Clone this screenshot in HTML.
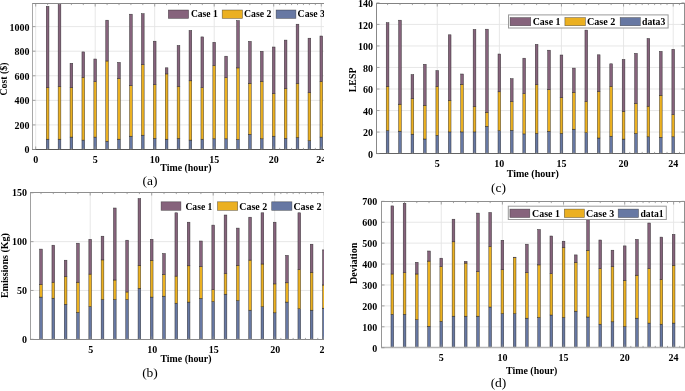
<!DOCTYPE html>
<html><head><meta charset="utf-8"><title>Figure</title>
<style>
html,body{margin:0;padding:0;background:#fff;}
body{width:685px;height:391px;overflow:hidden;}
svg{display:block;filter:blur(0.3px);}
text{font-family:"Liberation Serif",serif;fill:#000000;}
.b{font-weight:bold;font-size:10.0px;}
.l{font-weight:bold;font-size:9.8px;}
.c{font-size:13.5px;}
</style></head>
<body>
<svg width="685" height="391" viewBox="0 0 685 391">
<defs><clipPath id="clipa"><rect x="0" y="0" width="324" height="391"/></clipPath><clipPath id="clipb"><rect x="0" y="0" width="324" height="391"/></clipPath></defs>
<rect x="0" y="0" width="685" height="391" fill="#fff"/>
<g clip-path="url(#clipa)">
<line x1="32.5" y1="124.92" x2="340" y2="124.92" stroke="#e4e4e4" stroke-width="0.9"/>
<line x1="32.5" y1="100.35" x2="340" y2="100.35" stroke="#e4e4e4" stroke-width="0.9"/>
<line x1="32.5" y1="75.77" x2="340" y2="75.77" stroke="#e4e4e4" stroke-width="0.9"/>
<line x1="32.5" y1="51.2" x2="340" y2="51.2" stroke="#e4e4e4" stroke-width="0.9"/>
<line x1="32.5" y1="26.62" x2="340" y2="26.62" stroke="#e4e4e4" stroke-width="0.9"/>
<line x1="35.7" y1="3.5" x2="35.7" y2="149.5" stroke="#e4e4e4" stroke-width="0.9"/>
<line x1="95.2" y1="3.5" x2="95.2" y2="149.5" stroke="#e4e4e4" stroke-width="0.9"/>
<line x1="154.7" y1="3.5" x2="154.7" y2="149.5" stroke="#e4e4e4" stroke-width="0.9"/>
<line x1="214.2" y1="3.5" x2="214.2" y2="149.5" stroke="#e4e4e4" stroke-width="0.9"/>
<line x1="273.7" y1="3.5" x2="273.7" y2="149.5" stroke="#e4e4e4" stroke-width="0.9"/>
<line x1="321.3" y1="3.5" x2="321.3" y2="149.5" stroke="#e4e4e4" stroke-width="0.9"/>
<rect x="46.25" y="139.2" width="2.7" height="10.3" fill="#6778a3" stroke="#1e1e1e" stroke-width="0.5" stroke-opacity="0.85"/>
<rect x="46.25" y="87.6" width="2.7" height="51.6" fill="#ebb021" stroke="#1e1e1e" stroke-width="0.5" stroke-opacity="0.85"/>
<rect x="46.25" y="6.4" width="2.7" height="81.2" fill="#86637c" stroke="#1e1e1e" stroke-width="0.5" stroke-opacity="0.85"/>
<rect x="58.15" y="139.2" width="2.7" height="10.3" fill="#6778a3" stroke="#1e1e1e" stroke-width="0.5" stroke-opacity="0.85"/>
<rect x="58.15" y="86.5" width="2.7" height="52.7" fill="#ebb021" stroke="#1e1e1e" stroke-width="0.5" stroke-opacity="0.85"/>
<rect x="58.15" y="3.6" width="2.7" height="82.9" fill="#86637c" stroke="#1e1e1e" stroke-width="0.5" stroke-opacity="0.85"/>
<rect x="70.05" y="137.1" width="2.7" height="12.4" fill="#6778a3" stroke="#1e1e1e" stroke-width="0.5" stroke-opacity="0.85"/>
<rect x="70.05" y="87.6" width="2.7" height="49.5" fill="#ebb021" stroke="#1e1e1e" stroke-width="0.5" stroke-opacity="0.85"/>
<rect x="70.05" y="63.3" width="2.7" height="24.3" fill="#86637c" stroke="#1e1e1e" stroke-width="0.5" stroke-opacity="0.85"/>
<rect x="81.95" y="140.1" width="2.7" height="9.4" fill="#6778a3" stroke="#1e1e1e" stroke-width="0.5" stroke-opacity="0.85"/>
<rect x="81.95" y="77.3" width="2.7" height="62.8" fill="#ebb021" stroke="#1e1e1e" stroke-width="0.5" stroke-opacity="0.85"/>
<rect x="81.95" y="51.9" width="2.7" height="25.4" fill="#86637c" stroke="#1e1e1e" stroke-width="0.5" stroke-opacity="0.85"/>
<rect x="93.85" y="137.1" width="2.7" height="12.4" fill="#6778a3" stroke="#1e1e1e" stroke-width="0.5" stroke-opacity="0.85"/>
<rect x="93.85" y="81.6" width="2.7" height="55.5" fill="#ebb021" stroke="#1e1e1e" stroke-width="0.5" stroke-opacity="0.85"/>
<rect x="93.85" y="59" width="2.7" height="22.6" fill="#86637c" stroke="#1e1e1e" stroke-width="0.5" stroke-opacity="0.85"/>
<rect x="105.75" y="141.2" width="2.7" height="8.3" fill="#6778a3" stroke="#1e1e1e" stroke-width="0.5" stroke-opacity="0.85"/>
<rect x="105.75" y="61" width="2.7" height="80.2" fill="#ebb021" stroke="#1e1e1e" stroke-width="0.5" stroke-opacity="0.85"/>
<rect x="105.75" y="20.2" width="2.7" height="40.8" fill="#86637c" stroke="#1e1e1e" stroke-width="0.5" stroke-opacity="0.85"/>
<rect x="117.65" y="139.2" width="2.7" height="10.3" fill="#6778a3" stroke="#1e1e1e" stroke-width="0.5" stroke-opacity="0.85"/>
<rect x="117.65" y="78.6" width="2.7" height="60.6" fill="#ebb021" stroke="#1e1e1e" stroke-width="0.5" stroke-opacity="0.85"/>
<rect x="117.65" y="62.4" width="2.7" height="16.2" fill="#86637c" stroke="#1e1e1e" stroke-width="0.5" stroke-opacity="0.85"/>
<rect x="129.55" y="136.2" width="2.7" height="13.3" fill="#6778a3" stroke="#1e1e1e" stroke-width="0.5" stroke-opacity="0.85"/>
<rect x="129.55" y="85.7" width="2.7" height="50.5" fill="#ebb021" stroke="#1e1e1e" stroke-width="0.5" stroke-opacity="0.85"/>
<rect x="129.55" y="14.2" width="2.7" height="71.5" fill="#86637c" stroke="#1e1e1e" stroke-width="0.5" stroke-opacity="0.85"/>
<rect x="141.45" y="135.2" width="2.7" height="14.3" fill="#6778a3" stroke="#1e1e1e" stroke-width="0.5" stroke-opacity="0.85"/>
<rect x="141.45" y="64.7" width="2.7" height="70.5" fill="#ebb021" stroke="#1e1e1e" stroke-width="0.5" stroke-opacity="0.85"/>
<rect x="141.45" y="13.7" width="2.7" height="51" fill="#86637c" stroke="#1e1e1e" stroke-width="0.5" stroke-opacity="0.85"/>
<rect x="153.35" y="138.4" width="2.7" height="11.1" fill="#6778a3" stroke="#1e1e1e" stroke-width="0.5" stroke-opacity="0.85"/>
<rect x="153.35" y="84.6" width="2.7" height="53.8" fill="#ebb021" stroke="#1e1e1e" stroke-width="0.5" stroke-opacity="0.85"/>
<rect x="153.35" y="41.2" width="2.7" height="43.4" fill="#86637c" stroke="#1e1e1e" stroke-width="0.5" stroke-opacity="0.85"/>
<rect x="165.25" y="139.2" width="2.7" height="10.3" fill="#6778a3" stroke="#1e1e1e" stroke-width="0.5" stroke-opacity="0.85"/>
<rect x="165.25" y="73.9" width="2.7" height="65.3" fill="#ebb021" stroke="#1e1e1e" stroke-width="0.5" stroke-opacity="0.85"/>
<rect x="165.25" y="67.8" width="2.7" height="6.1" fill="#86637c" stroke="#1e1e1e" stroke-width="0.5" stroke-opacity="0.85"/>
<rect x="177.15" y="138.4" width="2.7" height="11.1" fill="#6778a3" stroke="#1e1e1e" stroke-width="0.5" stroke-opacity="0.85"/>
<rect x="177.15" y="86.5" width="2.7" height="51.9" fill="#ebb021" stroke="#1e1e1e" stroke-width="0.5" stroke-opacity="0.85"/>
<rect x="177.15" y="45.5" width="2.7" height="41" fill="#86637c" stroke="#1e1e1e" stroke-width="0.5" stroke-opacity="0.85"/>
<rect x="189.05" y="140.1" width="2.7" height="9.4" fill="#6778a3" stroke="#1e1e1e" stroke-width="0.5" stroke-opacity="0.85"/>
<rect x="189.05" y="80.8" width="2.7" height="59.3" fill="#ebb021" stroke="#1e1e1e" stroke-width="0.5" stroke-opacity="0.85"/>
<rect x="189.05" y="30.5" width="2.7" height="50.3" fill="#86637c" stroke="#1e1e1e" stroke-width="0.5" stroke-opacity="0.85"/>
<rect x="200.95" y="139.2" width="2.7" height="10.3" fill="#6778a3" stroke="#1e1e1e" stroke-width="0.5" stroke-opacity="0.85"/>
<rect x="200.95" y="87.6" width="2.7" height="51.6" fill="#ebb021" stroke="#1e1e1e" stroke-width="0.5" stroke-opacity="0.85"/>
<rect x="200.95" y="36.9" width="2.7" height="50.7" fill="#86637c" stroke="#1e1e1e" stroke-width="0.5" stroke-opacity="0.85"/>
<rect x="212.85" y="138.8" width="2.7" height="10.7" fill="#6778a3" stroke="#1e1e1e" stroke-width="0.5" stroke-opacity="0.85"/>
<rect x="212.85" y="65.5" width="2.7" height="73.3" fill="#ebb021" stroke="#1e1e1e" stroke-width="0.5" stroke-opacity="0.85"/>
<rect x="212.85" y="42.3" width="2.7" height="23.2" fill="#86637c" stroke="#1e1e1e" stroke-width="0.5" stroke-opacity="0.85"/>
<rect x="224.75" y="138.8" width="2.7" height="10.7" fill="#6778a3" stroke="#1e1e1e" stroke-width="0.5" stroke-opacity="0.85"/>
<rect x="224.75" y="77.7" width="2.7" height="61.1" fill="#ebb021" stroke="#1e1e1e" stroke-width="0.5" stroke-opacity="0.85"/>
<rect x="224.75" y="56.2" width="2.7" height="21.5" fill="#86637c" stroke="#1e1e1e" stroke-width="0.5" stroke-opacity="0.85"/>
<rect x="236.65" y="139.5" width="2.7" height="10" fill="#6778a3" stroke="#1e1e1e" stroke-width="0.5" stroke-opacity="0.85"/>
<rect x="236.65" y="67.9" width="2.7" height="71.6" fill="#ebb021" stroke="#1e1e1e" stroke-width="0.5" stroke-opacity="0.85"/>
<rect x="236.65" y="20.6" width="2.7" height="47.3" fill="#86637c" stroke="#1e1e1e" stroke-width="0.5" stroke-opacity="0.85"/>
<rect x="248.55" y="134.3" width="2.7" height="15.2" fill="#6778a3" stroke="#1e1e1e" stroke-width="0.5" stroke-opacity="0.85"/>
<rect x="248.55" y="83.3" width="2.7" height="51" fill="#ebb021" stroke="#1e1e1e" stroke-width="0.5" stroke-opacity="0.85"/>
<rect x="248.55" y="41.4" width="2.7" height="41.9" fill="#86637c" stroke="#1e1e1e" stroke-width="0.5" stroke-opacity="0.85"/>
<rect x="260.45" y="138.8" width="2.7" height="10.7" fill="#6778a3" stroke="#1e1e1e" stroke-width="0.5" stroke-opacity="0.85"/>
<rect x="260.45" y="81.4" width="2.7" height="57.4" fill="#ebb021" stroke="#1e1e1e" stroke-width="0.5" stroke-opacity="0.85"/>
<rect x="260.45" y="51.3" width="2.7" height="30.1" fill="#86637c" stroke="#1e1e1e" stroke-width="0.5" stroke-opacity="0.85"/>
<rect x="272.35" y="136.2" width="2.7" height="13.3" fill="#6778a3" stroke="#1e1e1e" stroke-width="0.5" stroke-opacity="0.85"/>
<rect x="272.35" y="93.6" width="2.7" height="42.6" fill="#ebb021" stroke="#1e1e1e" stroke-width="0.5" stroke-opacity="0.85"/>
<rect x="272.35" y="47" width="2.7" height="46.6" fill="#86637c" stroke="#1e1e1e" stroke-width="0.5" stroke-opacity="0.85"/>
<rect x="284.25" y="138.4" width="2.7" height="11.1" fill="#6778a3" stroke="#1e1e1e" stroke-width="0.5" stroke-opacity="0.85"/>
<rect x="284.25" y="88.5" width="2.7" height="49.9" fill="#ebb021" stroke="#1e1e1e" stroke-width="0.5" stroke-opacity="0.85"/>
<rect x="284.25" y="40.1" width="2.7" height="48.4" fill="#86637c" stroke="#1e1e1e" stroke-width="0.5" stroke-opacity="0.85"/>
<rect x="296.15" y="137.5" width="2.7" height="12" fill="#6778a3" stroke="#1e1e1e" stroke-width="0.5" stroke-opacity="0.85"/>
<rect x="296.15" y="83.5" width="2.7" height="54" fill="#ebb021" stroke="#1e1e1e" stroke-width="0.5" stroke-opacity="0.85"/>
<rect x="296.15" y="24.2" width="2.7" height="59.3" fill="#86637c" stroke="#1e1e1e" stroke-width="0.5" stroke-opacity="0.85"/>
<rect x="308.05" y="140.7" width="2.7" height="8.8" fill="#6778a3" stroke="#1e1e1e" stroke-width="0.5" stroke-opacity="0.85"/>
<rect x="308.05" y="92.6" width="2.7" height="48.1" fill="#ebb021" stroke="#1e1e1e" stroke-width="0.5" stroke-opacity="0.85"/>
<rect x="308.05" y="38.2" width="2.7" height="54.4" fill="#86637c" stroke="#1e1e1e" stroke-width="0.5" stroke-opacity="0.85"/>
<rect x="319.95" y="137.1" width="2.7" height="12.4" fill="#6778a3" stroke="#1e1e1e" stroke-width="0.5" stroke-opacity="0.85"/>
<rect x="319.95" y="81.4" width="2.7" height="55.7" fill="#ebb021" stroke="#1e1e1e" stroke-width="0.5" stroke-opacity="0.85"/>
<rect x="319.95" y="36" width="2.7" height="45.4" fill="#86637c" stroke="#1e1e1e" stroke-width="0.5" stroke-opacity="0.85"/>
<line x1="32" y1="3.5" x2="340.5" y2="3.5" stroke="#8a8a8a" stroke-width="1"/>
<line x1="32" y1="149.5" x2="340.5" y2="149.5" stroke="#565656" stroke-width="1"/>
<line x1="32.5" y1="3.5" x2="32.5" y2="149.5" stroke="#a8a8a8" stroke-width="1"/>
<line x1="340" y1="3.5" x2="340" y2="149.5" stroke="#8f8f8f" stroke-width="1"/>
<line x1="35.7" y1="149.5" x2="35.7" y2="146.5" stroke="#8f8f8f" stroke-width="0.8"/>
<line x1="35.7" y1="3.5" x2="35.7" y2="6.5" stroke="#8f8f8f" stroke-width="0.8"/>
<line x1="47.6" y1="149.5" x2="47.6" y2="147.9" stroke="#8f8f8f" stroke-width="0.8"/>
<line x1="47.6" y1="3.5" x2="47.6" y2="5.1" stroke="#8f8f8f" stroke-width="0.8"/>
<line x1="59.5" y1="149.5" x2="59.5" y2="147.9" stroke="#8f8f8f" stroke-width="0.8"/>
<line x1="59.5" y1="3.5" x2="59.5" y2="5.1" stroke="#8f8f8f" stroke-width="0.8"/>
<line x1="71.4" y1="149.5" x2="71.4" y2="147.9" stroke="#8f8f8f" stroke-width="0.8"/>
<line x1="71.4" y1="3.5" x2="71.4" y2="5.1" stroke="#8f8f8f" stroke-width="0.8"/>
<line x1="83.3" y1="149.5" x2="83.3" y2="147.9" stroke="#8f8f8f" stroke-width="0.8"/>
<line x1="83.3" y1="3.5" x2="83.3" y2="5.1" stroke="#8f8f8f" stroke-width="0.8"/>
<line x1="95.2" y1="149.5" x2="95.2" y2="146.5" stroke="#8f8f8f" stroke-width="0.8"/>
<line x1="95.2" y1="3.5" x2="95.2" y2="6.5" stroke="#8f8f8f" stroke-width="0.8"/>
<line x1="107.1" y1="149.5" x2="107.1" y2="147.9" stroke="#8f8f8f" stroke-width="0.8"/>
<line x1="107.1" y1="3.5" x2="107.1" y2="5.1" stroke="#8f8f8f" stroke-width="0.8"/>
<line x1="119" y1="149.5" x2="119" y2="147.9" stroke="#8f8f8f" stroke-width="0.8"/>
<line x1="119" y1="3.5" x2="119" y2="5.1" stroke="#8f8f8f" stroke-width="0.8"/>
<line x1="130.9" y1="149.5" x2="130.9" y2="147.9" stroke="#8f8f8f" stroke-width="0.8"/>
<line x1="130.9" y1="3.5" x2="130.9" y2="5.1" stroke="#8f8f8f" stroke-width="0.8"/>
<line x1="142.8" y1="149.5" x2="142.8" y2="147.9" stroke="#8f8f8f" stroke-width="0.8"/>
<line x1="142.8" y1="3.5" x2="142.8" y2="5.1" stroke="#8f8f8f" stroke-width="0.8"/>
<line x1="154.7" y1="149.5" x2="154.7" y2="146.5" stroke="#8f8f8f" stroke-width="0.8"/>
<line x1="154.7" y1="3.5" x2="154.7" y2="6.5" stroke="#8f8f8f" stroke-width="0.8"/>
<line x1="166.6" y1="149.5" x2="166.6" y2="147.9" stroke="#8f8f8f" stroke-width="0.8"/>
<line x1="166.6" y1="3.5" x2="166.6" y2="5.1" stroke="#8f8f8f" stroke-width="0.8"/>
<line x1="178.5" y1="149.5" x2="178.5" y2="147.9" stroke="#8f8f8f" stroke-width="0.8"/>
<line x1="178.5" y1="3.5" x2="178.5" y2="5.1" stroke="#8f8f8f" stroke-width="0.8"/>
<line x1="190.4" y1="149.5" x2="190.4" y2="147.9" stroke="#8f8f8f" stroke-width="0.8"/>
<line x1="190.4" y1="3.5" x2="190.4" y2="5.1" stroke="#8f8f8f" stroke-width="0.8"/>
<line x1="202.3" y1="149.5" x2="202.3" y2="147.9" stroke="#8f8f8f" stroke-width="0.8"/>
<line x1="202.3" y1="3.5" x2="202.3" y2="5.1" stroke="#8f8f8f" stroke-width="0.8"/>
<line x1="214.2" y1="149.5" x2="214.2" y2="146.5" stroke="#8f8f8f" stroke-width="0.8"/>
<line x1="214.2" y1="3.5" x2="214.2" y2="6.5" stroke="#8f8f8f" stroke-width="0.8"/>
<line x1="226.1" y1="149.5" x2="226.1" y2="147.9" stroke="#8f8f8f" stroke-width="0.8"/>
<line x1="226.1" y1="3.5" x2="226.1" y2="5.1" stroke="#8f8f8f" stroke-width="0.8"/>
<line x1="238" y1="149.5" x2="238" y2="147.9" stroke="#8f8f8f" stroke-width="0.8"/>
<line x1="238" y1="3.5" x2="238" y2="5.1" stroke="#8f8f8f" stroke-width="0.8"/>
<line x1="249.9" y1="149.5" x2="249.9" y2="147.9" stroke="#8f8f8f" stroke-width="0.8"/>
<line x1="249.9" y1="3.5" x2="249.9" y2="5.1" stroke="#8f8f8f" stroke-width="0.8"/>
<line x1="261.8" y1="149.5" x2="261.8" y2="147.9" stroke="#8f8f8f" stroke-width="0.8"/>
<line x1="261.8" y1="3.5" x2="261.8" y2="5.1" stroke="#8f8f8f" stroke-width="0.8"/>
<line x1="273.7" y1="149.5" x2="273.7" y2="146.5" stroke="#8f8f8f" stroke-width="0.8"/>
<line x1="273.7" y1="3.5" x2="273.7" y2="6.5" stroke="#8f8f8f" stroke-width="0.8"/>
<line x1="279.65" y1="149.5" x2="279.65" y2="147.9" stroke="#8f8f8f" stroke-width="0.8"/>
<line x1="279.65" y1="3.5" x2="279.65" y2="5.1" stroke="#8f8f8f" stroke-width="0.8"/>
<line x1="285.6" y1="149.5" x2="285.6" y2="147.9" stroke="#8f8f8f" stroke-width="0.8"/>
<line x1="285.6" y1="3.5" x2="285.6" y2="5.1" stroke="#8f8f8f" stroke-width="0.8"/>
<line x1="291.55" y1="149.5" x2="291.55" y2="147.9" stroke="#8f8f8f" stroke-width="0.8"/>
<line x1="291.55" y1="3.5" x2="291.55" y2="5.1" stroke="#8f8f8f" stroke-width="0.8"/>
<line x1="297.5" y1="149.5" x2="297.5" y2="147.9" stroke="#8f8f8f" stroke-width="0.8"/>
<line x1="297.5" y1="3.5" x2="297.5" y2="5.1" stroke="#8f8f8f" stroke-width="0.8"/>
<line x1="303.45" y1="149.5" x2="303.45" y2="147.9" stroke="#8f8f8f" stroke-width="0.8"/>
<line x1="303.45" y1="3.5" x2="303.45" y2="5.1" stroke="#8f8f8f" stroke-width="0.8"/>
<line x1="309.4" y1="149.5" x2="309.4" y2="147.9" stroke="#8f8f8f" stroke-width="0.8"/>
<line x1="309.4" y1="3.5" x2="309.4" y2="5.1" stroke="#8f8f8f" stroke-width="0.8"/>
<line x1="315.35" y1="149.5" x2="315.35" y2="147.9" stroke="#8f8f8f" stroke-width="0.8"/>
<line x1="315.35" y1="3.5" x2="315.35" y2="5.1" stroke="#8f8f8f" stroke-width="0.8"/>
<line x1="321.3" y1="149.5" x2="321.3" y2="146.5" stroke="#8f8f8f" stroke-width="0.8"/>
<line x1="321.3" y1="3.5" x2="321.3" y2="6.5" stroke="#8f8f8f" stroke-width="0.8"/>
<line x1="327.25" y1="149.5" x2="327.25" y2="147.9" stroke="#8f8f8f" stroke-width="0.8"/>
<line x1="327.25" y1="3.5" x2="327.25" y2="5.1" stroke="#8f8f8f" stroke-width="0.8"/>
<line x1="333.2" y1="149.5" x2="333.2" y2="147.9" stroke="#8f8f8f" stroke-width="0.8"/>
<line x1="333.2" y1="3.5" x2="333.2" y2="5.1" stroke="#8f8f8f" stroke-width="0.8"/>
<line x1="339.15" y1="149.5" x2="339.15" y2="147.9" stroke="#8f8f8f" stroke-width="0.8"/>
<line x1="339.15" y1="3.5" x2="339.15" y2="5.1" stroke="#8f8f8f" stroke-width="0.8"/>
<line x1="32.5" y1="149.5" x2="35.5" y2="149.5" stroke="#8f8f8f" stroke-width="0.8"/>
<line x1="340" y1="149.5" x2="337" y2="149.5" stroke="#8f8f8f" stroke-width="0.8"/>
<line x1="32.5" y1="124.92" x2="35.5" y2="124.92" stroke="#8f8f8f" stroke-width="0.8"/>
<line x1="340" y1="124.92" x2="337" y2="124.92" stroke="#8f8f8f" stroke-width="0.8"/>
<line x1="32.5" y1="100.35" x2="35.5" y2="100.35" stroke="#8f8f8f" stroke-width="0.8"/>
<line x1="340" y1="100.35" x2="337" y2="100.35" stroke="#8f8f8f" stroke-width="0.8"/>
<line x1="32.5" y1="75.77" x2="35.5" y2="75.77" stroke="#8f8f8f" stroke-width="0.8"/>
<line x1="340" y1="75.77" x2="337" y2="75.77" stroke="#8f8f8f" stroke-width="0.8"/>
<line x1="32.5" y1="51.2" x2="35.5" y2="51.2" stroke="#8f8f8f" stroke-width="0.8"/>
<line x1="340" y1="51.2" x2="337" y2="51.2" stroke="#8f8f8f" stroke-width="0.8"/>
<line x1="32.5" y1="26.62" x2="35.5" y2="26.62" stroke="#8f8f8f" stroke-width="0.8"/>
<line x1="340" y1="26.62" x2="337" y2="26.62" stroke="#8f8f8f" stroke-width="0.8"/>
<rect x="168.3" y="10" width="20.3" height="8.4" fill="#86637c" stroke="#1e1e1e" stroke-width="0.6" stroke-opacity="0.6"/>
<text x="190.9" y="17.3" class="b" textLength="26.9" lengthAdjust="spacingAndGlyphs">Case 1</text>
<rect x="222.2" y="10" width="20.3" height="8.4" fill="#ebb021" stroke="#1e1e1e" stroke-width="0.6" stroke-opacity="0.6"/>
<text x="244" y="17.3" class="b" textLength="27.4" lengthAdjust="spacingAndGlyphs">Case 2</text>
<rect x="276.1" y="10" width="19.8" height="8.4" fill="#6778a3" stroke="#1e1e1e" stroke-width="0.6" stroke-opacity="0.6"/>
<text x="297.6" y="17.3" class="b" textLength="27.4" lengthAdjust="spacingAndGlyphs">Case 3</text>
<text x="29.4" y="153.4" class="b" text-anchor="end">0</text>
<text x="29.4" y="128.82" class="b" text-anchor="end">200</text>
<text x="29.4" y="104.25" class="b" text-anchor="end">400</text>
<text x="29.4" y="79.67" class="b" text-anchor="end">600</text>
<text x="29.4" y="55.1" class="b" text-anchor="end">800</text>
<text x="29.4" y="30.52" class="b" text-anchor="end">1000</text>
<text x="35.7" y="162.6" class="b" text-anchor="middle">0</text>
<text x="95.2" y="162.6" class="b" text-anchor="middle">5</text>
<text x="154.7" y="162.6" class="b" text-anchor="middle">10</text>
<text x="214.2" y="162.6" class="b" text-anchor="middle">15</text>
<text x="273.7" y="162.6" class="b" text-anchor="middle">20</text>
<text x="321.3" y="162.6" class="b" text-anchor="middle">24</text>
<text x="185.9" y="170.8" class="l" text-anchor="middle" textLength="51.2" lengthAdjust="spacingAndGlyphs">Time (hour)</text>
<text transform="translate(7.3,79.1) rotate(-90)" x="0" y="0" class="l" text-anchor="middle" textLength="33" lengthAdjust="spacingAndGlyphs">Cost (&#36;)</text>
</g>
<text x="150" y="185.2" class="c" text-anchor="middle">(a)</text>
<g>
<line x1="376.5" y1="132.07" x2="684.5" y2="132.07" stroke="#e4e4e4" stroke-width="0.9"/>
<line x1="376.5" y1="110.54" x2="684.5" y2="110.54" stroke="#e4e4e4" stroke-width="0.9"/>
<line x1="376.5" y1="89.01" x2="684.5" y2="89.01" stroke="#e4e4e4" stroke-width="0.9"/>
<line x1="376.5" y1="67.48" x2="684.5" y2="67.48" stroke="#e4e4e4" stroke-width="0.9"/>
<line x1="376.5" y1="45.95" x2="684.5" y2="45.95" stroke="#e4e4e4" stroke-width="0.9"/>
<line x1="376.5" y1="24.42" x2="684.5" y2="24.42" stroke="#e4e4e4" stroke-width="0.9"/>
<line x1="437.25" y1="3.5" x2="437.25" y2="153.5" stroke="#e4e4e4" stroke-width="0.9"/>
<line x1="499.35" y1="3.5" x2="499.35" y2="153.5" stroke="#e4e4e4" stroke-width="0.9"/>
<line x1="561.45" y1="3.5" x2="561.45" y2="153.5" stroke="#e4e4e4" stroke-width="0.9"/>
<line x1="623.55" y1="3.5" x2="623.55" y2="153.5" stroke="#e4e4e4" stroke-width="0.9"/>
<line x1="673.23" y1="3.5" x2="673.23" y2="153.5" stroke="#e4e4e4" stroke-width="0.9"/>
<rect x="386.22" y="130.6" width="2.7" height="22.9" fill="#6778a3" stroke="#1e1e1e" stroke-width="0.5" stroke-opacity="0.85"/>
<rect x="386.22" y="86.4" width="2.7" height="44.2" fill="#ebb021" stroke="#1e1e1e" stroke-width="0.5" stroke-opacity="0.85"/>
<rect x="386.22" y="22.7" width="2.7" height="63.7" fill="#86637c" stroke="#1e1e1e" stroke-width="0.5" stroke-opacity="0.85"/>
<rect x="398.64" y="131.2" width="2.7" height="22.3" fill="#6778a3" stroke="#1e1e1e" stroke-width="0.5" stroke-opacity="0.85"/>
<rect x="398.64" y="104.2" width="2.7" height="27" fill="#ebb021" stroke="#1e1e1e" stroke-width="0.5" stroke-opacity="0.85"/>
<rect x="398.64" y="20.2" width="2.7" height="84" fill="#86637c" stroke="#1e1e1e" stroke-width="0.5" stroke-opacity="0.85"/>
<rect x="411.06" y="134.2" width="2.7" height="19.3" fill="#6778a3" stroke="#1e1e1e" stroke-width="0.5" stroke-opacity="0.85"/>
<rect x="411.06" y="98.6" width="2.7" height="35.6" fill="#ebb021" stroke="#1e1e1e" stroke-width="0.5" stroke-opacity="0.85"/>
<rect x="411.06" y="74.6" width="2.7" height="24" fill="#86637c" stroke="#1e1e1e" stroke-width="0.5" stroke-opacity="0.85"/>
<rect x="423.48" y="139" width="2.7" height="14.5" fill="#6778a3" stroke="#1e1e1e" stroke-width="0.5" stroke-opacity="0.85"/>
<rect x="423.48" y="105.3" width="2.7" height="33.7" fill="#ebb021" stroke="#1e1e1e" stroke-width="0.5" stroke-opacity="0.85"/>
<rect x="423.48" y="64.3" width="2.7" height="41" fill="#86637c" stroke="#1e1e1e" stroke-width="0.5" stroke-opacity="0.85"/>
<rect x="435.9" y="135.3" width="2.7" height="18.2" fill="#6778a3" stroke="#1e1e1e" stroke-width="0.5" stroke-opacity="0.85"/>
<rect x="435.9" y="86.4" width="2.7" height="48.9" fill="#ebb021" stroke="#1e1e1e" stroke-width="0.5" stroke-opacity="0.85"/>
<rect x="435.9" y="70.6" width="2.7" height="15.8" fill="#86637c" stroke="#1e1e1e" stroke-width="0.5" stroke-opacity="0.85"/>
<rect x="448.32" y="131.9" width="2.7" height="21.6" fill="#6778a3" stroke="#1e1e1e" stroke-width="0.5" stroke-opacity="0.85"/>
<rect x="448.32" y="100.4" width="2.7" height="31.5" fill="#ebb021" stroke="#1e1e1e" stroke-width="0.5" stroke-opacity="0.85"/>
<rect x="448.32" y="34.8" width="2.7" height="65.6" fill="#86637c" stroke="#1e1e1e" stroke-width="0.5" stroke-opacity="0.85"/>
<rect x="460.74" y="131.9" width="2.7" height="21.6" fill="#6778a3" stroke="#1e1e1e" stroke-width="0.5" stroke-opacity="0.85"/>
<rect x="460.74" y="84.4" width="2.7" height="47.5" fill="#ebb021" stroke="#1e1e1e" stroke-width="0.5" stroke-opacity="0.85"/>
<rect x="460.74" y="74" width="2.7" height="10.4" fill="#86637c" stroke="#1e1e1e" stroke-width="0.5" stroke-opacity="0.85"/>
<rect x="473.16" y="131.9" width="2.7" height="21.6" fill="#6778a3" stroke="#1e1e1e" stroke-width="0.5" stroke-opacity="0.85"/>
<rect x="473.16" y="106.4" width="2.7" height="25.5" fill="#ebb021" stroke="#1e1e1e" stroke-width="0.5" stroke-opacity="0.85"/>
<rect x="473.16" y="29.5" width="2.7" height="76.9" fill="#86637c" stroke="#1e1e1e" stroke-width="0.5" stroke-opacity="0.85"/>
<rect x="485.58" y="126.3" width="2.7" height="27.2" fill="#6778a3" stroke="#1e1e1e" stroke-width="0.5" stroke-opacity="0.85"/>
<rect x="485.58" y="112.3" width="2.7" height="14" fill="#ebb021" stroke="#1e1e1e" stroke-width="0.5" stroke-opacity="0.85"/>
<rect x="485.58" y="29.2" width="2.7" height="83.1" fill="#86637c" stroke="#1e1e1e" stroke-width="0.5" stroke-opacity="0.85"/>
<rect x="498" y="130.6" width="2.7" height="22.9" fill="#6778a3" stroke="#1e1e1e" stroke-width="0.5" stroke-opacity="0.85"/>
<rect x="498" y="91.8" width="2.7" height="38.8" fill="#ebb021" stroke="#1e1e1e" stroke-width="0.5" stroke-opacity="0.85"/>
<rect x="498" y="54" width="2.7" height="37.8" fill="#86637c" stroke="#1e1e1e" stroke-width="0.5" stroke-opacity="0.85"/>
<rect x="510.42" y="130.3" width="2.7" height="23.2" fill="#6778a3" stroke="#1e1e1e" stroke-width="0.5" stroke-opacity="0.85"/>
<rect x="510.42" y="101.5" width="2.7" height="28.8" fill="#ebb021" stroke="#1e1e1e" stroke-width="0.5" stroke-opacity="0.85"/>
<rect x="510.42" y="78.7" width="2.7" height="22.8" fill="#86637c" stroke="#1e1e1e" stroke-width="0.5" stroke-opacity="0.85"/>
<rect x="522.84" y="133.9" width="2.7" height="19.6" fill="#6778a3" stroke="#1e1e1e" stroke-width="0.5" stroke-opacity="0.85"/>
<rect x="522.84" y="93.6" width="2.7" height="40.3" fill="#ebb021" stroke="#1e1e1e" stroke-width="0.5" stroke-opacity="0.85"/>
<rect x="522.84" y="58.2" width="2.7" height="35.4" fill="#86637c" stroke="#1e1e1e" stroke-width="0.5" stroke-opacity="0.85"/>
<rect x="535.26" y="133.4" width="2.7" height="20.1" fill="#6778a3" stroke="#1e1e1e" stroke-width="0.5" stroke-opacity="0.85"/>
<rect x="535.26" y="84.7" width="2.7" height="48.7" fill="#ebb021" stroke="#1e1e1e" stroke-width="0.5" stroke-opacity="0.85"/>
<rect x="535.26" y="44.4" width="2.7" height="40.3" fill="#86637c" stroke="#1e1e1e" stroke-width="0.5" stroke-opacity="0.85"/>
<rect x="547.68" y="131.3" width="2.7" height="22.2" fill="#6778a3" stroke="#1e1e1e" stroke-width="0.5" stroke-opacity="0.85"/>
<rect x="547.68" y="89.7" width="2.7" height="41.6" fill="#ebb021" stroke="#1e1e1e" stroke-width="0.5" stroke-opacity="0.85"/>
<rect x="547.68" y="50.2" width="2.7" height="39.5" fill="#86637c" stroke="#1e1e1e" stroke-width="0.5" stroke-opacity="0.85"/>
<rect x="560.1" y="133.4" width="2.7" height="20.1" fill="#6778a3" stroke="#1e1e1e" stroke-width="0.5" stroke-opacity="0.85"/>
<rect x="560.1" y="97.6" width="2.7" height="35.8" fill="#ebb021" stroke="#1e1e1e" stroke-width="0.5" stroke-opacity="0.85"/>
<rect x="560.1" y="55" width="2.7" height="42.6" fill="#86637c" stroke="#1e1e1e" stroke-width="0.5" stroke-opacity="0.85"/>
<rect x="572.52" y="129.2" width="2.7" height="24.3" fill="#6778a3" stroke="#1e1e1e" stroke-width="0.5" stroke-opacity="0.85"/>
<rect x="572.52" y="92.4" width="2.7" height="36.8" fill="#ebb021" stroke="#1e1e1e" stroke-width="0.5" stroke-opacity="0.85"/>
<rect x="572.52" y="68.1" width="2.7" height="24.3" fill="#86637c" stroke="#1e1e1e" stroke-width="0.5" stroke-opacity="0.85"/>
<rect x="584.94" y="132.7" width="2.7" height="20.8" fill="#6778a3" stroke="#1e1e1e" stroke-width="0.5" stroke-opacity="0.85"/>
<rect x="584.94" y="101.5" width="2.7" height="31.2" fill="#ebb021" stroke="#1e1e1e" stroke-width="0.5" stroke-opacity="0.85"/>
<rect x="584.94" y="30.1" width="2.7" height="71.4" fill="#86637c" stroke="#1e1e1e" stroke-width="0.5" stroke-opacity="0.85"/>
<rect x="597.36" y="138" width="2.7" height="15.5" fill="#6778a3" stroke="#1e1e1e" stroke-width="0.5" stroke-opacity="0.85"/>
<rect x="597.36" y="91.5" width="2.7" height="46.5" fill="#ebb021" stroke="#1e1e1e" stroke-width="0.5" stroke-opacity="0.85"/>
<rect x="597.36" y="54.8" width="2.7" height="36.7" fill="#86637c" stroke="#1e1e1e" stroke-width="0.5" stroke-opacity="0.85"/>
<rect x="609.78" y="136.2" width="2.7" height="17.3" fill="#6778a3" stroke="#1e1e1e" stroke-width="0.5" stroke-opacity="0.85"/>
<rect x="609.78" y="86.3" width="2.7" height="49.9" fill="#ebb021" stroke="#1e1e1e" stroke-width="0.5" stroke-opacity="0.85"/>
<rect x="609.78" y="63.8" width="2.7" height="22.5" fill="#86637c" stroke="#1e1e1e" stroke-width="0.5" stroke-opacity="0.85"/>
<rect x="622.2" y="139.1" width="2.7" height="14.4" fill="#6778a3" stroke="#1e1e1e" stroke-width="0.5" stroke-opacity="0.85"/>
<rect x="622.2" y="111.4" width="2.7" height="27.7" fill="#ebb021" stroke="#1e1e1e" stroke-width="0.5" stroke-opacity="0.85"/>
<rect x="622.2" y="59.5" width="2.7" height="51.9" fill="#86637c" stroke="#1e1e1e" stroke-width="0.5" stroke-opacity="0.85"/>
<rect x="634.62" y="133.5" width="2.7" height="20" fill="#6778a3" stroke="#1e1e1e" stroke-width="0.5" stroke-opacity="0.85"/>
<rect x="634.62" y="103.5" width="2.7" height="30" fill="#ebb021" stroke="#1e1e1e" stroke-width="0.5" stroke-opacity="0.85"/>
<rect x="634.62" y="53.4" width="2.7" height="50.1" fill="#86637c" stroke="#1e1e1e" stroke-width="0.5" stroke-opacity="0.85"/>
<rect x="647.04" y="136.8" width="2.7" height="16.7" fill="#6778a3" stroke="#1e1e1e" stroke-width="0.5" stroke-opacity="0.85"/>
<rect x="647.04" y="106.2" width="2.7" height="30.6" fill="#ebb021" stroke="#1e1e1e" stroke-width="0.5" stroke-opacity="0.85"/>
<rect x="647.04" y="38.5" width="2.7" height="67.7" fill="#86637c" stroke="#1e1e1e" stroke-width="0.5" stroke-opacity="0.85"/>
<rect x="659.46" y="137.3" width="2.7" height="16.2" fill="#6778a3" stroke="#1e1e1e" stroke-width="0.5" stroke-opacity="0.85"/>
<rect x="659.46" y="95.3" width="2.7" height="42" fill="#ebb021" stroke="#1e1e1e" stroke-width="0.5" stroke-opacity="0.85"/>
<rect x="659.46" y="51.4" width="2.7" height="43.9" fill="#86637c" stroke="#1e1e1e" stroke-width="0.5" stroke-opacity="0.85"/>
<rect x="671.88" y="136.8" width="2.7" height="16.7" fill="#6778a3" stroke="#1e1e1e" stroke-width="0.5" stroke-opacity="0.85"/>
<rect x="671.88" y="114.6" width="2.7" height="22.2" fill="#ebb021" stroke="#1e1e1e" stroke-width="0.5" stroke-opacity="0.85"/>
<rect x="671.88" y="49.3" width="2.7" height="65.3" fill="#86637c" stroke="#1e1e1e" stroke-width="0.5" stroke-opacity="0.85"/>
<line x1="376" y1="3.5" x2="685" y2="3.5" stroke="#828282" stroke-width="1"/>
<line x1="376" y1="153.5" x2="685" y2="153.5" stroke="#646464" stroke-width="1"/>
<line x1="376.5" y1="3.5" x2="376.5" y2="153.5" stroke="#888888" stroke-width="1"/>
<line x1="684.5" y1="3.5" x2="684.5" y2="153.5" stroke="#8f8f8f" stroke-width="1"/>
<line x1="387.57" y1="153.5" x2="387.57" y2="151.9" stroke="#8f8f8f" stroke-width="0.8"/>
<line x1="387.57" y1="3.5" x2="387.57" y2="5.1" stroke="#8f8f8f" stroke-width="0.8"/>
<line x1="399.99" y1="153.5" x2="399.99" y2="151.9" stroke="#8f8f8f" stroke-width="0.8"/>
<line x1="399.99" y1="3.5" x2="399.99" y2="5.1" stroke="#8f8f8f" stroke-width="0.8"/>
<line x1="412.41" y1="153.5" x2="412.41" y2="151.9" stroke="#8f8f8f" stroke-width="0.8"/>
<line x1="412.41" y1="3.5" x2="412.41" y2="5.1" stroke="#8f8f8f" stroke-width="0.8"/>
<line x1="424.83" y1="153.5" x2="424.83" y2="151.9" stroke="#8f8f8f" stroke-width="0.8"/>
<line x1="424.83" y1="3.5" x2="424.83" y2="5.1" stroke="#8f8f8f" stroke-width="0.8"/>
<line x1="437.25" y1="153.5" x2="437.25" y2="150.5" stroke="#8f8f8f" stroke-width="0.8"/>
<line x1="437.25" y1="3.5" x2="437.25" y2="6.5" stroke="#8f8f8f" stroke-width="0.8"/>
<line x1="449.67" y1="153.5" x2="449.67" y2="151.9" stroke="#8f8f8f" stroke-width="0.8"/>
<line x1="449.67" y1="3.5" x2="449.67" y2="5.1" stroke="#8f8f8f" stroke-width="0.8"/>
<line x1="462.09" y1="153.5" x2="462.09" y2="151.9" stroke="#8f8f8f" stroke-width="0.8"/>
<line x1="462.09" y1="3.5" x2="462.09" y2="5.1" stroke="#8f8f8f" stroke-width="0.8"/>
<line x1="474.51" y1="153.5" x2="474.51" y2="151.9" stroke="#8f8f8f" stroke-width="0.8"/>
<line x1="474.51" y1="3.5" x2="474.51" y2="5.1" stroke="#8f8f8f" stroke-width="0.8"/>
<line x1="486.93" y1="153.5" x2="486.93" y2="151.9" stroke="#8f8f8f" stroke-width="0.8"/>
<line x1="486.93" y1="3.5" x2="486.93" y2="5.1" stroke="#8f8f8f" stroke-width="0.8"/>
<line x1="499.35" y1="153.5" x2="499.35" y2="150.5" stroke="#8f8f8f" stroke-width="0.8"/>
<line x1="499.35" y1="3.5" x2="499.35" y2="6.5" stroke="#8f8f8f" stroke-width="0.8"/>
<line x1="511.77" y1="153.5" x2="511.77" y2="151.9" stroke="#8f8f8f" stroke-width="0.8"/>
<line x1="511.77" y1="3.5" x2="511.77" y2="5.1" stroke="#8f8f8f" stroke-width="0.8"/>
<line x1="524.19" y1="153.5" x2="524.19" y2="151.9" stroke="#8f8f8f" stroke-width="0.8"/>
<line x1="524.19" y1="3.5" x2="524.19" y2="5.1" stroke="#8f8f8f" stroke-width="0.8"/>
<line x1="536.61" y1="153.5" x2="536.61" y2="151.9" stroke="#8f8f8f" stroke-width="0.8"/>
<line x1="536.61" y1="3.5" x2="536.61" y2="5.1" stroke="#8f8f8f" stroke-width="0.8"/>
<line x1="549.03" y1="153.5" x2="549.03" y2="151.9" stroke="#8f8f8f" stroke-width="0.8"/>
<line x1="549.03" y1="3.5" x2="549.03" y2="5.1" stroke="#8f8f8f" stroke-width="0.8"/>
<line x1="561.45" y1="153.5" x2="561.45" y2="150.5" stroke="#8f8f8f" stroke-width="0.8"/>
<line x1="561.45" y1="3.5" x2="561.45" y2="6.5" stroke="#8f8f8f" stroke-width="0.8"/>
<line x1="573.87" y1="153.5" x2="573.87" y2="151.9" stroke="#8f8f8f" stroke-width="0.8"/>
<line x1="573.87" y1="3.5" x2="573.87" y2="5.1" stroke="#8f8f8f" stroke-width="0.8"/>
<line x1="586.29" y1="153.5" x2="586.29" y2="151.9" stroke="#8f8f8f" stroke-width="0.8"/>
<line x1="586.29" y1="3.5" x2="586.29" y2="5.1" stroke="#8f8f8f" stroke-width="0.8"/>
<line x1="598.71" y1="153.5" x2="598.71" y2="151.9" stroke="#8f8f8f" stroke-width="0.8"/>
<line x1="598.71" y1="3.5" x2="598.71" y2="5.1" stroke="#8f8f8f" stroke-width="0.8"/>
<line x1="611.13" y1="153.5" x2="611.13" y2="151.9" stroke="#8f8f8f" stroke-width="0.8"/>
<line x1="611.13" y1="3.5" x2="611.13" y2="5.1" stroke="#8f8f8f" stroke-width="0.8"/>
<line x1="623.55" y1="153.5" x2="623.55" y2="150.5" stroke="#8f8f8f" stroke-width="0.8"/>
<line x1="623.55" y1="3.5" x2="623.55" y2="6.5" stroke="#8f8f8f" stroke-width="0.8"/>
<line x1="629.76" y1="153.5" x2="629.76" y2="151.9" stroke="#8f8f8f" stroke-width="0.8"/>
<line x1="629.76" y1="3.5" x2="629.76" y2="5.1" stroke="#8f8f8f" stroke-width="0.8"/>
<line x1="635.97" y1="153.5" x2="635.97" y2="151.9" stroke="#8f8f8f" stroke-width="0.8"/>
<line x1="635.97" y1="3.5" x2="635.97" y2="5.1" stroke="#8f8f8f" stroke-width="0.8"/>
<line x1="642.18" y1="153.5" x2="642.18" y2="151.9" stroke="#8f8f8f" stroke-width="0.8"/>
<line x1="642.18" y1="3.5" x2="642.18" y2="5.1" stroke="#8f8f8f" stroke-width="0.8"/>
<line x1="648.39" y1="153.5" x2="648.39" y2="151.9" stroke="#8f8f8f" stroke-width="0.8"/>
<line x1="648.39" y1="3.5" x2="648.39" y2="5.1" stroke="#8f8f8f" stroke-width="0.8"/>
<line x1="654.6" y1="153.5" x2="654.6" y2="151.9" stroke="#8f8f8f" stroke-width="0.8"/>
<line x1="654.6" y1="3.5" x2="654.6" y2="5.1" stroke="#8f8f8f" stroke-width="0.8"/>
<line x1="660.81" y1="153.5" x2="660.81" y2="151.9" stroke="#8f8f8f" stroke-width="0.8"/>
<line x1="660.81" y1="3.5" x2="660.81" y2="5.1" stroke="#8f8f8f" stroke-width="0.8"/>
<line x1="667.02" y1="153.5" x2="667.02" y2="151.9" stroke="#8f8f8f" stroke-width="0.8"/>
<line x1="667.02" y1="3.5" x2="667.02" y2="5.1" stroke="#8f8f8f" stroke-width="0.8"/>
<line x1="673.23" y1="153.5" x2="673.23" y2="150.5" stroke="#8f8f8f" stroke-width="0.8"/>
<line x1="673.23" y1="3.5" x2="673.23" y2="6.5" stroke="#8f8f8f" stroke-width="0.8"/>
<line x1="679.44" y1="153.5" x2="679.44" y2="151.9" stroke="#8f8f8f" stroke-width="0.8"/>
<line x1="679.44" y1="3.5" x2="679.44" y2="5.1" stroke="#8f8f8f" stroke-width="0.8"/>
<line x1="376.5" y1="153.6" x2="379.5" y2="153.6" stroke="#8f8f8f" stroke-width="0.8"/>
<line x1="684.5" y1="153.6" x2="681.5" y2="153.6" stroke="#8f8f8f" stroke-width="0.8"/>
<line x1="376.5" y1="132.07" x2="379.5" y2="132.07" stroke="#8f8f8f" stroke-width="0.8"/>
<line x1="684.5" y1="132.07" x2="681.5" y2="132.07" stroke="#8f8f8f" stroke-width="0.8"/>
<line x1="376.5" y1="110.54" x2="379.5" y2="110.54" stroke="#8f8f8f" stroke-width="0.8"/>
<line x1="684.5" y1="110.54" x2="681.5" y2="110.54" stroke="#8f8f8f" stroke-width="0.8"/>
<line x1="376.5" y1="89.01" x2="379.5" y2="89.01" stroke="#8f8f8f" stroke-width="0.8"/>
<line x1="684.5" y1="89.01" x2="681.5" y2="89.01" stroke="#8f8f8f" stroke-width="0.8"/>
<line x1="376.5" y1="67.48" x2="379.5" y2="67.48" stroke="#8f8f8f" stroke-width="0.8"/>
<line x1="684.5" y1="67.48" x2="681.5" y2="67.48" stroke="#8f8f8f" stroke-width="0.8"/>
<line x1="376.5" y1="45.95" x2="379.5" y2="45.95" stroke="#8f8f8f" stroke-width="0.8"/>
<line x1="684.5" y1="45.95" x2="681.5" y2="45.95" stroke="#8f8f8f" stroke-width="0.8"/>
<line x1="376.5" y1="24.42" x2="379.5" y2="24.42" stroke="#8f8f8f" stroke-width="0.8"/>
<line x1="684.5" y1="24.42" x2="681.5" y2="24.42" stroke="#8f8f8f" stroke-width="0.8"/>
<line x1="376.5" y1="2.89" x2="379.5" y2="2.89" stroke="#8f8f8f" stroke-width="0.8"/>
<line x1="684.5" y1="2.89" x2="681.5" y2="2.89" stroke="#8f8f8f" stroke-width="0.8"/>
<rect x="508.5" y="14.9" width="159.6" height="13.1" fill="#fff" stroke="#9a9a9a" stroke-width="1"/>
<rect x="510.1" y="17.6" width="20.6" height="8.1" fill="#86637c" stroke="#1e1e1e" stroke-width="0.6" stroke-opacity="0.6"/>
<text x="532.7" y="24.8" class="b" textLength="27.8" lengthAdjust="spacingAndGlyphs">Case 1</text>
<rect x="564.9" y="17.6" width="20.5" height="8.1" fill="#ebb021" stroke="#1e1e1e" stroke-width="0.6" stroke-opacity="0.6"/>
<text x="586.9" y="24.8" class="b" textLength="28.5" lengthAdjust="spacingAndGlyphs">Case 2</text>
<rect x="620.2" y="17.6" width="20.1" height="8.1" fill="#6778a3" stroke="#1e1e1e" stroke-width="0.6" stroke-opacity="0.6"/>
<text x="642" y="24.8" class="b" textLength="23.3" lengthAdjust="spacingAndGlyphs">data3</text>
<text x="373.1" y="157.9" class="b" text-anchor="end">0</text>
<text x="373.1" y="136.37" class="b" text-anchor="end">20</text>
<text x="373.1" y="114.84" class="b" text-anchor="end">40</text>
<text x="373.1" y="93.31" class="b" text-anchor="end">60</text>
<text x="373.1" y="71.78" class="b" text-anchor="end">80</text>
<text x="373.1" y="50.25" class="b" text-anchor="end">100</text>
<text x="373.1" y="28.72" class="b" text-anchor="end">120</text>
<text x="373.1" y="7.19" class="b" text-anchor="end">140</text>
<text x="437.25" y="166.7" class="b" text-anchor="middle">5</text>
<text x="499.35" y="166.7" class="b" text-anchor="middle">10</text>
<text x="561.45" y="166.7" class="b" text-anchor="middle">15</text>
<text x="623.55" y="166.7" class="b" text-anchor="middle">20</text>
<text x="673.23" y="166.7" class="b" text-anchor="middle">24</text>
<text x="532.7" y="176.9" class="l" text-anchor="middle" textLength="52.1" lengthAdjust="spacingAndGlyphs">Time (hour)</text>
<text transform="translate(356.4,79.9) rotate(-90)" x="0" y="0" class="l" text-anchor="middle" textLength="24.6" lengthAdjust="spacingAndGlyphs">LESP</text>
</g>
<text x="498.5" y="192" class="c" text-anchor="middle">(c)</text>
<g clip-path="url(#clipb)">
<line x1="30.5" y1="290.47" x2="340" y2="290.47" stroke="#e4e4e4" stroke-width="0.9"/>
<line x1="30.5" y1="241.63" x2="340" y2="241.63" stroke="#e4e4e4" stroke-width="0.9"/>
<line x1="90.2" y1="192.5" x2="90.2" y2="339.5" stroke="#e4e4e4" stroke-width="0.9"/>
<line x1="151.7" y1="192.5" x2="151.7" y2="339.5" stroke="#e4e4e4" stroke-width="0.9"/>
<line x1="213.2" y1="192.5" x2="213.2" y2="339.5" stroke="#e4e4e4" stroke-width="0.9"/>
<line x1="274.7" y1="192.5" x2="274.7" y2="339.5" stroke="#e4e4e4" stroke-width="0.9"/>
<line x1="323.9" y1="192.5" x2="323.9" y2="339.5" stroke="#e4e4e4" stroke-width="0.9"/>
<rect x="39.65" y="297.1" width="2.7" height="42.4" fill="#6778a3" stroke="#1e1e1e" stroke-width="0.5" stroke-opacity="0.85"/>
<rect x="39.65" y="284.4" width="2.7" height="12.7" fill="#ebb021" stroke="#1e1e1e" stroke-width="0.5" stroke-opacity="0.85"/>
<rect x="39.65" y="249.1" width="2.7" height="35.3" fill="#86637c" stroke="#1e1e1e" stroke-width="0.5" stroke-opacity="0.85"/>
<rect x="51.95" y="298.2" width="2.7" height="41.3" fill="#6778a3" stroke="#1e1e1e" stroke-width="0.5" stroke-opacity="0.85"/>
<rect x="51.95" y="282.2" width="2.7" height="16" fill="#ebb021" stroke="#1e1e1e" stroke-width="0.5" stroke-opacity="0.85"/>
<rect x="51.95" y="245.2" width="2.7" height="37" fill="#86637c" stroke="#1e1e1e" stroke-width="0.5" stroke-opacity="0.85"/>
<rect x="64.25" y="304.3" width="2.7" height="35.2" fill="#6778a3" stroke="#1e1e1e" stroke-width="0.5" stroke-opacity="0.85"/>
<rect x="64.25" y="276.5" width="2.7" height="27.8" fill="#ebb021" stroke="#1e1e1e" stroke-width="0.5" stroke-opacity="0.85"/>
<rect x="64.25" y="260.2" width="2.7" height="16.3" fill="#86637c" stroke="#1e1e1e" stroke-width="0.5" stroke-opacity="0.85"/>
<rect x="76.55" y="312.4" width="2.7" height="27.1" fill="#6778a3" stroke="#1e1e1e" stroke-width="0.5" stroke-opacity="0.85"/>
<rect x="76.55" y="282.2" width="2.7" height="30.2" fill="#ebb021" stroke="#1e1e1e" stroke-width="0.5" stroke-opacity="0.85"/>
<rect x="76.55" y="243.2" width="2.7" height="39" fill="#86637c" stroke="#1e1e1e" stroke-width="0.5" stroke-opacity="0.85"/>
<rect x="88.85" y="306.5" width="2.7" height="33" fill="#6778a3" stroke="#1e1e1e" stroke-width="0.5" stroke-opacity="0.85"/>
<rect x="88.85" y="274.1" width="2.7" height="32.4" fill="#ebb021" stroke="#1e1e1e" stroke-width="0.5" stroke-opacity="0.85"/>
<rect x="88.85" y="239.3" width="2.7" height="34.8" fill="#86637c" stroke="#1e1e1e" stroke-width="0.5" stroke-opacity="0.85"/>
<rect x="101.15" y="299.5" width="2.7" height="40" fill="#6778a3" stroke="#1e1e1e" stroke-width="0.5" stroke-opacity="0.85"/>
<rect x="101.15" y="259.9" width="2.7" height="39.6" fill="#ebb021" stroke="#1e1e1e" stroke-width="0.5" stroke-opacity="0.85"/>
<rect x="101.15" y="236.2" width="2.7" height="23.7" fill="#86637c" stroke="#1e1e1e" stroke-width="0.5" stroke-opacity="0.85"/>
<rect x="113.45" y="299.5" width="2.7" height="40" fill="#6778a3" stroke="#1e1e1e" stroke-width="0.5" stroke-opacity="0.85"/>
<rect x="113.45" y="280" width="2.7" height="19.5" fill="#ebb021" stroke="#1e1e1e" stroke-width="0.5" stroke-opacity="0.85"/>
<rect x="113.45" y="208" width="2.7" height="72" fill="#86637c" stroke="#1e1e1e" stroke-width="0.5" stroke-opacity="0.85"/>
<rect x="125.75" y="299.5" width="2.7" height="40" fill="#6778a3" stroke="#1e1e1e" stroke-width="0.5" stroke-opacity="0.85"/>
<rect x="125.75" y="292" width="2.7" height="7.5" fill="#ebb021" stroke="#1e1e1e" stroke-width="0.5" stroke-opacity="0.85"/>
<rect x="125.75" y="240.2" width="2.7" height="51.8" fill="#86637c" stroke="#1e1e1e" stroke-width="0.5" stroke-opacity="0.85"/>
<rect x="138.05" y="288.3" width="2.7" height="51.2" fill="#6778a3" stroke="#1e1e1e" stroke-width="0.5" stroke-opacity="0.85"/>
<rect x="138.05" y="265.3" width="2.7" height="23" fill="#ebb021" stroke="#1e1e1e" stroke-width="0.5" stroke-opacity="0.85"/>
<rect x="138.05" y="198.6" width="2.7" height="66.7" fill="#86637c" stroke="#1e1e1e" stroke-width="0.5" stroke-opacity="0.85"/>
<rect x="150.35" y="297.1" width="2.7" height="42.4" fill="#6778a3" stroke="#1e1e1e" stroke-width="0.5" stroke-opacity="0.85"/>
<rect x="150.35" y="260.3" width="2.7" height="36.8" fill="#ebb021" stroke="#1e1e1e" stroke-width="0.5" stroke-opacity="0.85"/>
<rect x="150.35" y="239.3" width="2.7" height="21" fill="#86637c" stroke="#1e1e1e" stroke-width="0.5" stroke-opacity="0.85"/>
<rect x="162.65" y="296.2" width="2.7" height="43.3" fill="#6778a3" stroke="#1e1e1e" stroke-width="0.5" stroke-opacity="0.85"/>
<rect x="162.65" y="274.5" width="2.7" height="21.7" fill="#ebb021" stroke="#1e1e1e" stroke-width="0.5" stroke-opacity="0.85"/>
<rect x="162.65" y="253.5" width="2.7" height="21" fill="#86637c" stroke="#1e1e1e" stroke-width="0.5" stroke-opacity="0.85"/>
<rect x="174.95" y="303.2" width="2.7" height="36.3" fill="#6778a3" stroke="#1e1e1e" stroke-width="0.5" stroke-opacity="0.85"/>
<rect x="174.95" y="276.1" width="2.7" height="27.1" fill="#ebb021" stroke="#1e1e1e" stroke-width="0.5" stroke-opacity="0.85"/>
<rect x="174.95" y="212.8" width="2.7" height="63.3" fill="#86637c" stroke="#1e1e1e" stroke-width="0.5" stroke-opacity="0.85"/>
<rect x="187.25" y="302.1" width="2.7" height="37.4" fill="#6778a3" stroke="#1e1e1e" stroke-width="0.5" stroke-opacity="0.85"/>
<rect x="187.25" y="265.8" width="2.7" height="36.3" fill="#ebb021" stroke="#1e1e1e" stroke-width="0.5" stroke-opacity="0.85"/>
<rect x="187.25" y="222.2" width="2.7" height="43.6" fill="#86637c" stroke="#1e1e1e" stroke-width="0.5" stroke-opacity="0.85"/>
<rect x="199.55" y="298.4" width="2.7" height="41.1" fill="#6778a3" stroke="#1e1e1e" stroke-width="0.5" stroke-opacity="0.85"/>
<rect x="199.55" y="266.6" width="2.7" height="31.8" fill="#ebb021" stroke="#1e1e1e" stroke-width="0.5" stroke-opacity="0.85"/>
<rect x="199.55" y="241" width="2.7" height="25.6" fill="#86637c" stroke="#1e1e1e" stroke-width="0.5" stroke-opacity="0.85"/>
<rect x="211.85" y="301.5" width="2.7" height="38" fill="#6778a3" stroke="#1e1e1e" stroke-width="0.5" stroke-opacity="0.85"/>
<rect x="211.85" y="289.6" width="2.7" height="11.9" fill="#ebb021" stroke="#1e1e1e" stroke-width="0.5" stroke-opacity="0.85"/>
<rect x="211.85" y="225.1" width="2.7" height="64.5" fill="#86637c" stroke="#1e1e1e" stroke-width="0.5" stroke-opacity="0.85"/>
<rect x="224.15" y="294.2" width="2.7" height="45.3" fill="#6778a3" stroke="#1e1e1e" stroke-width="0.5" stroke-opacity="0.85"/>
<rect x="224.15" y="273.6" width="2.7" height="20.6" fill="#ebb021" stroke="#1e1e1e" stroke-width="0.5" stroke-opacity="0.85"/>
<rect x="224.15" y="215" width="2.7" height="58.6" fill="#86637c" stroke="#1e1e1e" stroke-width="0.5" stroke-opacity="0.85"/>
<rect x="236.45" y="300.6" width="2.7" height="38.9" fill="#6778a3" stroke="#1e1e1e" stroke-width="0.5" stroke-opacity="0.85"/>
<rect x="236.45" y="265.3" width="2.7" height="35.3" fill="#ebb021" stroke="#1e1e1e" stroke-width="0.5" stroke-opacity="0.85"/>
<rect x="236.45" y="228.1" width="2.7" height="37.2" fill="#86637c" stroke="#1e1e1e" stroke-width="0.5" stroke-opacity="0.85"/>
<rect x="248.75" y="310.2" width="2.7" height="29.3" fill="#6778a3" stroke="#1e1e1e" stroke-width="0.5" stroke-opacity="0.85"/>
<rect x="248.75" y="260.1" width="2.7" height="50.1" fill="#ebb021" stroke="#1e1e1e" stroke-width="0.5" stroke-opacity="0.85"/>
<rect x="248.75" y="217.2" width="2.7" height="42.9" fill="#86637c" stroke="#1e1e1e" stroke-width="0.5" stroke-opacity="0.85"/>
<rect x="261.05" y="306.7" width="2.7" height="32.8" fill="#6778a3" stroke="#1e1e1e" stroke-width="0.5" stroke-opacity="0.85"/>
<rect x="261.05" y="264" width="2.7" height="42.7" fill="#ebb021" stroke="#1e1e1e" stroke-width="0.5" stroke-opacity="0.85"/>
<rect x="261.05" y="212.8" width="2.7" height="51.2" fill="#86637c" stroke="#1e1e1e" stroke-width="0.5" stroke-opacity="0.85"/>
<rect x="273.35" y="312.8" width="2.7" height="26.7" fill="#6778a3" stroke="#1e1e1e" stroke-width="0.5" stroke-opacity="0.85"/>
<rect x="273.35" y="283.9" width="2.7" height="28.9" fill="#ebb021" stroke="#1e1e1e" stroke-width="0.5" stroke-opacity="0.85"/>
<rect x="273.35" y="222.2" width="2.7" height="61.7" fill="#86637c" stroke="#1e1e1e" stroke-width="0.5" stroke-opacity="0.85"/>
<rect x="285.65" y="302.1" width="2.7" height="37.4" fill="#6778a3" stroke="#1e1e1e" stroke-width="0.5" stroke-opacity="0.85"/>
<rect x="285.65" y="282.8" width="2.7" height="19.3" fill="#ebb021" stroke="#1e1e1e" stroke-width="0.5" stroke-opacity="0.85"/>
<rect x="285.65" y="255.4" width="2.7" height="27.4" fill="#86637c" stroke="#1e1e1e" stroke-width="0.5" stroke-opacity="0.85"/>
<rect x="297.95" y="308.7" width="2.7" height="30.8" fill="#6778a3" stroke="#1e1e1e" stroke-width="0.5" stroke-opacity="0.85"/>
<rect x="297.95" y="269.5" width="2.7" height="39.2" fill="#ebb021" stroke="#1e1e1e" stroke-width="0.5" stroke-opacity="0.85"/>
<rect x="297.95" y="212.8" width="2.7" height="56.7" fill="#86637c" stroke="#1e1e1e" stroke-width="0.5" stroke-opacity="0.85"/>
<rect x="310.25" y="310.2" width="2.7" height="29.3" fill="#6778a3" stroke="#1e1e1e" stroke-width="0.5" stroke-opacity="0.85"/>
<rect x="310.25" y="272.3" width="2.7" height="37.9" fill="#ebb021" stroke="#1e1e1e" stroke-width="0.5" stroke-opacity="0.85"/>
<rect x="310.25" y="244.2" width="2.7" height="28.1" fill="#86637c" stroke="#1e1e1e" stroke-width="0.5" stroke-opacity="0.85"/>
<rect x="322.55" y="308.2" width="2.7" height="31.3" fill="#6778a3" stroke="#1e1e1e" stroke-width="0.5" stroke-opacity="0.85"/>
<rect x="322.55" y="285" width="2.7" height="23.2" fill="#ebb021" stroke="#1e1e1e" stroke-width="0.5" stroke-opacity="0.85"/>
<rect x="322.55" y="249.9" width="2.7" height="35.1" fill="#86637c" stroke="#1e1e1e" stroke-width="0.5" stroke-opacity="0.85"/>
<line x1="30" y1="192.5" x2="340.5" y2="192.5" stroke="#8f8f8f" stroke-width="1"/>
<line x1="30" y1="339.5" x2="340.5" y2="339.5" stroke="#8a8a8a" stroke-width="1"/>
<line x1="30.5" y1="192.5" x2="30.5" y2="339.5" stroke="#a0a0a0" stroke-width="1"/>
<line x1="340" y1="192.5" x2="340" y2="339.5" stroke="#8f8f8f" stroke-width="1"/>
<line x1="41" y1="339.5" x2="41" y2="337.9" stroke="#8f8f8f" stroke-width="0.8"/>
<line x1="41" y1="192.5" x2="41" y2="194.1" stroke="#8f8f8f" stroke-width="0.8"/>
<line x1="53.3" y1="339.5" x2="53.3" y2="337.9" stroke="#8f8f8f" stroke-width="0.8"/>
<line x1="53.3" y1="192.5" x2="53.3" y2="194.1" stroke="#8f8f8f" stroke-width="0.8"/>
<line x1="65.6" y1="339.5" x2="65.6" y2="337.9" stroke="#8f8f8f" stroke-width="0.8"/>
<line x1="65.6" y1="192.5" x2="65.6" y2="194.1" stroke="#8f8f8f" stroke-width="0.8"/>
<line x1="77.9" y1="339.5" x2="77.9" y2="337.9" stroke="#8f8f8f" stroke-width="0.8"/>
<line x1="77.9" y1="192.5" x2="77.9" y2="194.1" stroke="#8f8f8f" stroke-width="0.8"/>
<line x1="90.2" y1="339.5" x2="90.2" y2="336.5" stroke="#8f8f8f" stroke-width="0.8"/>
<line x1="90.2" y1="192.5" x2="90.2" y2="195.5" stroke="#8f8f8f" stroke-width="0.8"/>
<line x1="102.5" y1="339.5" x2="102.5" y2="337.9" stroke="#8f8f8f" stroke-width="0.8"/>
<line x1="102.5" y1="192.5" x2="102.5" y2="194.1" stroke="#8f8f8f" stroke-width="0.8"/>
<line x1="114.8" y1="339.5" x2="114.8" y2="337.9" stroke="#8f8f8f" stroke-width="0.8"/>
<line x1="114.8" y1="192.5" x2="114.8" y2="194.1" stroke="#8f8f8f" stroke-width="0.8"/>
<line x1="127.1" y1="339.5" x2="127.1" y2="337.9" stroke="#8f8f8f" stroke-width="0.8"/>
<line x1="127.1" y1="192.5" x2="127.1" y2="194.1" stroke="#8f8f8f" stroke-width="0.8"/>
<line x1="139.4" y1="339.5" x2="139.4" y2="337.9" stroke="#8f8f8f" stroke-width="0.8"/>
<line x1="139.4" y1="192.5" x2="139.4" y2="194.1" stroke="#8f8f8f" stroke-width="0.8"/>
<line x1="151.7" y1="339.5" x2="151.7" y2="336.5" stroke="#8f8f8f" stroke-width="0.8"/>
<line x1="151.7" y1="192.5" x2="151.7" y2="195.5" stroke="#8f8f8f" stroke-width="0.8"/>
<line x1="164" y1="339.5" x2="164" y2="337.9" stroke="#8f8f8f" stroke-width="0.8"/>
<line x1="164" y1="192.5" x2="164" y2="194.1" stroke="#8f8f8f" stroke-width="0.8"/>
<line x1="176.3" y1="339.5" x2="176.3" y2="337.9" stroke="#8f8f8f" stroke-width="0.8"/>
<line x1="176.3" y1="192.5" x2="176.3" y2="194.1" stroke="#8f8f8f" stroke-width="0.8"/>
<line x1="188.6" y1="339.5" x2="188.6" y2="337.9" stroke="#8f8f8f" stroke-width="0.8"/>
<line x1="188.6" y1="192.5" x2="188.6" y2="194.1" stroke="#8f8f8f" stroke-width="0.8"/>
<line x1="200.9" y1="339.5" x2="200.9" y2="337.9" stroke="#8f8f8f" stroke-width="0.8"/>
<line x1="200.9" y1="192.5" x2="200.9" y2="194.1" stroke="#8f8f8f" stroke-width="0.8"/>
<line x1="213.2" y1="339.5" x2="213.2" y2="336.5" stroke="#8f8f8f" stroke-width="0.8"/>
<line x1="213.2" y1="192.5" x2="213.2" y2="195.5" stroke="#8f8f8f" stroke-width="0.8"/>
<line x1="225.5" y1="339.5" x2="225.5" y2="337.9" stroke="#8f8f8f" stroke-width="0.8"/>
<line x1="225.5" y1="192.5" x2="225.5" y2="194.1" stroke="#8f8f8f" stroke-width="0.8"/>
<line x1="237.8" y1="339.5" x2="237.8" y2="337.9" stroke="#8f8f8f" stroke-width="0.8"/>
<line x1="237.8" y1="192.5" x2="237.8" y2="194.1" stroke="#8f8f8f" stroke-width="0.8"/>
<line x1="250.1" y1="339.5" x2="250.1" y2="337.9" stroke="#8f8f8f" stroke-width="0.8"/>
<line x1="250.1" y1="192.5" x2="250.1" y2="194.1" stroke="#8f8f8f" stroke-width="0.8"/>
<line x1="262.4" y1="339.5" x2="262.4" y2="337.9" stroke="#8f8f8f" stroke-width="0.8"/>
<line x1="262.4" y1="192.5" x2="262.4" y2="194.1" stroke="#8f8f8f" stroke-width="0.8"/>
<line x1="274.7" y1="339.5" x2="274.7" y2="336.5" stroke="#8f8f8f" stroke-width="0.8"/>
<line x1="274.7" y1="192.5" x2="274.7" y2="195.5" stroke="#8f8f8f" stroke-width="0.8"/>
<line x1="280.85" y1="339.5" x2="280.85" y2="337.9" stroke="#8f8f8f" stroke-width="0.8"/>
<line x1="280.85" y1="192.5" x2="280.85" y2="194.1" stroke="#8f8f8f" stroke-width="0.8"/>
<line x1="287" y1="339.5" x2="287" y2="337.9" stroke="#8f8f8f" stroke-width="0.8"/>
<line x1="287" y1="192.5" x2="287" y2="194.1" stroke="#8f8f8f" stroke-width="0.8"/>
<line x1="293.15" y1="339.5" x2="293.15" y2="337.9" stroke="#8f8f8f" stroke-width="0.8"/>
<line x1="293.15" y1="192.5" x2="293.15" y2="194.1" stroke="#8f8f8f" stroke-width="0.8"/>
<line x1="299.3" y1="339.5" x2="299.3" y2="337.9" stroke="#8f8f8f" stroke-width="0.8"/>
<line x1="299.3" y1="192.5" x2="299.3" y2="194.1" stroke="#8f8f8f" stroke-width="0.8"/>
<line x1="305.45" y1="339.5" x2="305.45" y2="337.9" stroke="#8f8f8f" stroke-width="0.8"/>
<line x1="305.45" y1="192.5" x2="305.45" y2="194.1" stroke="#8f8f8f" stroke-width="0.8"/>
<line x1="311.6" y1="339.5" x2="311.6" y2="337.9" stroke="#8f8f8f" stroke-width="0.8"/>
<line x1="311.6" y1="192.5" x2="311.6" y2="194.1" stroke="#8f8f8f" stroke-width="0.8"/>
<line x1="317.75" y1="339.5" x2="317.75" y2="337.9" stroke="#8f8f8f" stroke-width="0.8"/>
<line x1="317.75" y1="192.5" x2="317.75" y2="194.1" stroke="#8f8f8f" stroke-width="0.8"/>
<line x1="323.9" y1="339.5" x2="323.9" y2="336.5" stroke="#8f8f8f" stroke-width="0.8"/>
<line x1="323.9" y1="192.5" x2="323.9" y2="195.5" stroke="#8f8f8f" stroke-width="0.8"/>
<line x1="330.05" y1="339.5" x2="330.05" y2="337.9" stroke="#8f8f8f" stroke-width="0.8"/>
<line x1="330.05" y1="192.5" x2="330.05" y2="194.1" stroke="#8f8f8f" stroke-width="0.8"/>
<line x1="336.2" y1="339.5" x2="336.2" y2="337.9" stroke="#8f8f8f" stroke-width="0.8"/>
<line x1="336.2" y1="192.5" x2="336.2" y2="194.1" stroke="#8f8f8f" stroke-width="0.8"/>
<line x1="30.5" y1="339.3" x2="33.5" y2="339.3" stroke="#8f8f8f" stroke-width="0.8"/>
<line x1="340" y1="339.3" x2="337" y2="339.3" stroke="#8f8f8f" stroke-width="0.8"/>
<line x1="30.5" y1="290.47" x2="33.5" y2="290.47" stroke="#8f8f8f" stroke-width="0.8"/>
<line x1="340" y1="290.47" x2="337" y2="290.47" stroke="#8f8f8f" stroke-width="0.8"/>
<line x1="30.5" y1="241.63" x2="33.5" y2="241.63" stroke="#8f8f8f" stroke-width="0.8"/>
<line x1="340" y1="241.63" x2="337" y2="241.63" stroke="#8f8f8f" stroke-width="0.8"/>
<line x1="30.5" y1="192.8" x2="33.5" y2="192.8" stroke="#8f8f8f" stroke-width="0.8"/>
<line x1="340" y1="192.8" x2="337" y2="192.8" stroke="#8f8f8f" stroke-width="0.8"/>
<rect x="161.1" y="201.8" width="19.8" height="8.5" fill="#86637c" stroke="#1e1e1e" stroke-width="0.6" stroke-opacity="0.6"/>
<text x="185.4" y="209.6" class="b" textLength="27" lengthAdjust="spacingAndGlyphs">Case 1</text>
<rect x="217.5" y="201.8" width="20.2" height="8.5" fill="#ebb021" stroke="#1e1e1e" stroke-width="0.6" stroke-opacity="0.6"/>
<text x="239.3" y="209.6" class="b" textLength="28" lengthAdjust="spacingAndGlyphs">Case 2</text>
<rect x="271.7" y="201.8" width="20.2" height="8.5" fill="#6778a3" stroke="#1e1e1e" stroke-width="0.6" stroke-opacity="0.6"/>
<text x="293.4" y="209.6" class="b" textLength="28" lengthAdjust="spacingAndGlyphs">Case 2</text>
<text x="27" y="342.9" class="b" text-anchor="end">0</text>
<text x="27" y="294.07" class="b" text-anchor="end">50</text>
<text x="27" y="245.23" class="b" text-anchor="end">100</text>
<text x="27" y="196.4" class="b" text-anchor="end">150</text>
<text x="90.7" y="352.7" class="b" text-anchor="middle">5</text>
<text x="152.2" y="352.7" class="b" text-anchor="middle">10</text>
<text x="213.7" y="352.7" class="b" text-anchor="middle">15</text>
<text x="275.2" y="352.7" class="b" text-anchor="middle">20</text>
<text x="324.4" y="352.7" class="b" text-anchor="middle">24</text>
<text x="186" y="361.9" class="l" text-anchor="middle" textLength="51.1" lengthAdjust="spacingAndGlyphs">Time (hour)</text>
<text transform="translate(7.8,265.6) rotate(-90)" x="0" y="0" class="l" text-anchor="middle" textLength="65" lengthAdjust="spacingAndGlyphs">Emissions (Kg)</text>
</g>
<text x="150" y="377" class="c" text-anchor="middle">(b)</text>
<g>
<line x1="381.5" y1="326.79" x2="684.5" y2="326.79" stroke="#e4e4e4" stroke-width="0.9"/>
<line x1="381.5" y1="305.88" x2="684.5" y2="305.88" stroke="#e4e4e4" stroke-width="0.9"/>
<line x1="381.5" y1="284.97" x2="684.5" y2="284.97" stroke="#e4e4e4" stroke-width="0.9"/>
<line x1="381.5" y1="264.06" x2="684.5" y2="264.06" stroke="#e4e4e4" stroke-width="0.9"/>
<line x1="381.5" y1="243.15" x2="684.5" y2="243.15" stroke="#e4e4e4" stroke-width="0.9"/>
<line x1="381.5" y1="222.24" x2="684.5" y2="222.24" stroke="#e4e4e4" stroke-width="0.9"/>
<line x1="441.25" y1="201.5" x2="441.25" y2="347.5" stroke="#e4e4e4" stroke-width="0.9"/>
<line x1="502.4" y1="201.5" x2="502.4" y2="347.5" stroke="#e4e4e4" stroke-width="0.9"/>
<line x1="563.55" y1="201.5" x2="563.55" y2="347.5" stroke="#e4e4e4" stroke-width="0.9"/>
<line x1="624.7" y1="201.5" x2="624.7" y2="347.5" stroke="#e4e4e4" stroke-width="0.9"/>
<line x1="673.62" y1="201.5" x2="673.62" y2="347.5" stroke="#e4e4e4" stroke-width="0.9"/>
<rect x="390.98" y="314.3" width="2.7" height="33.2" fill="#6778a3" stroke="#1e1e1e" stroke-width="0.5" stroke-opacity="0.85"/>
<rect x="390.98" y="274" width="2.7" height="40.3" fill="#ebb021" stroke="#1e1e1e" stroke-width="0.5" stroke-opacity="0.85"/>
<rect x="390.98" y="205.9" width="2.7" height="68.1" fill="#86637c" stroke="#1e1e1e" stroke-width="0.5" stroke-opacity="0.85"/>
<rect x="403.21" y="314.3" width="2.7" height="33.2" fill="#6778a3" stroke="#1e1e1e" stroke-width="0.5" stroke-opacity="0.85"/>
<rect x="403.21" y="272.7" width="2.7" height="41.6" fill="#ebb021" stroke="#1e1e1e" stroke-width="0.5" stroke-opacity="0.85"/>
<rect x="403.21" y="203.3" width="2.7" height="69.4" fill="#86637c" stroke="#1e1e1e" stroke-width="0.5" stroke-opacity="0.85"/>
<rect x="415.44" y="319.7" width="2.7" height="27.8" fill="#6778a3" stroke="#1e1e1e" stroke-width="0.5" stroke-opacity="0.85"/>
<rect x="415.44" y="274" width="2.7" height="45.7" fill="#ebb021" stroke="#1e1e1e" stroke-width="0.5" stroke-opacity="0.85"/>
<rect x="415.44" y="262.3" width="2.7" height="11.7" fill="#86637c" stroke="#1e1e1e" stroke-width="0.5" stroke-opacity="0.85"/>
<rect x="427.67" y="326.3" width="2.7" height="21.2" fill="#6778a3" stroke="#1e1e1e" stroke-width="0.5" stroke-opacity="0.85"/>
<rect x="427.67" y="261.1" width="2.7" height="65.2" fill="#ebb021" stroke="#1e1e1e" stroke-width="0.5" stroke-opacity="0.85"/>
<rect x="427.67" y="251" width="2.7" height="10.1" fill="#86637c" stroke="#1e1e1e" stroke-width="0.5" stroke-opacity="0.85"/>
<rect x="439.9" y="321.3" width="2.7" height="26.2" fill="#6778a3" stroke="#1e1e1e" stroke-width="0.5" stroke-opacity="0.85"/>
<rect x="439.9" y="266.6" width="2.7" height="54.7" fill="#ebb021" stroke="#1e1e1e" stroke-width="0.5" stroke-opacity="0.85"/>
<rect x="439.9" y="258.2" width="2.7" height="8.4" fill="#86637c" stroke="#1e1e1e" stroke-width="0.5" stroke-opacity="0.85"/>
<rect x="452.13" y="316.2" width="2.7" height="31.3" fill="#6778a3" stroke="#1e1e1e" stroke-width="0.5" stroke-opacity="0.85"/>
<rect x="452.13" y="241.8" width="2.7" height="74.4" fill="#ebb021" stroke="#1e1e1e" stroke-width="0.5" stroke-opacity="0.85"/>
<rect x="452.13" y="219.2" width="2.7" height="22.6" fill="#86637c" stroke="#1e1e1e" stroke-width="0.5" stroke-opacity="0.85"/>
<rect x="464.36" y="316.2" width="2.7" height="31.3" fill="#6778a3" stroke="#1e1e1e" stroke-width="0.5" stroke-opacity="0.85"/>
<rect x="464.36" y="263.1" width="2.7" height="53.1" fill="#ebb021" stroke="#1e1e1e" stroke-width="0.5" stroke-opacity="0.85"/>
<rect x="464.36" y="261.4" width="2.7" height="1.7" fill="#86637c" stroke="#1e1e1e" stroke-width="0.5" stroke-opacity="0.85"/>
<rect x="476.59" y="316.2" width="2.7" height="31.3" fill="#6778a3" stroke="#1e1e1e" stroke-width="0.5" stroke-opacity="0.85"/>
<rect x="476.59" y="271.6" width="2.7" height="44.6" fill="#ebb021" stroke="#1e1e1e" stroke-width="0.5" stroke-opacity="0.85"/>
<rect x="476.59" y="213.1" width="2.7" height="58.5" fill="#86637c" stroke="#1e1e1e" stroke-width="0.5" stroke-opacity="0.85"/>
<rect x="488.82" y="307" width="2.7" height="40.5" fill="#6778a3" stroke="#1e1e1e" stroke-width="0.5" stroke-opacity="0.85"/>
<rect x="488.82" y="246.4" width="2.7" height="60.6" fill="#ebb021" stroke="#1e1e1e" stroke-width="0.5" stroke-opacity="0.85"/>
<rect x="488.82" y="212.5" width="2.7" height="33.9" fill="#86637c" stroke="#1e1e1e" stroke-width="0.5" stroke-opacity="0.85"/>
<rect x="501.05" y="313.6" width="2.7" height="33.9" fill="#6778a3" stroke="#1e1e1e" stroke-width="0.5" stroke-opacity="0.85"/>
<rect x="501.05" y="269.7" width="2.7" height="43.9" fill="#ebb021" stroke="#1e1e1e" stroke-width="0.5" stroke-opacity="0.85"/>
<rect x="501.05" y="240.3" width="2.7" height="29.4" fill="#86637c" stroke="#1e1e1e" stroke-width="0.5" stroke-opacity="0.85"/>
<rect x="513.28" y="313.6" width="2.7" height="33.9" fill="#6778a3" stroke="#1e1e1e" stroke-width="0.5" stroke-opacity="0.85"/>
<rect x="513.28" y="257.6" width="2.7" height="56" fill="#ebb021" stroke="#1e1e1e" stroke-width="0.5" stroke-opacity="0.85"/>
<rect x="513.28" y="257.2" width="2.7" height="0.4" fill="#86637c" stroke="#1e1e1e" stroke-width="0.5" stroke-opacity="0.85"/>
<rect x="525.51" y="318.2" width="2.7" height="29.3" fill="#6778a3" stroke="#1e1e1e" stroke-width="0.5" stroke-opacity="0.85"/>
<rect x="525.51" y="272.7" width="2.7" height="45.5" fill="#ebb021" stroke="#1e1e1e" stroke-width="0.5" stroke-opacity="0.85"/>
<rect x="525.51" y="244.2" width="2.7" height="28.5" fill="#86637c" stroke="#1e1e1e" stroke-width="0.5" stroke-opacity="0.85"/>
<rect x="537.74" y="317.5" width="2.7" height="30" fill="#6778a3" stroke="#1e1e1e" stroke-width="0.5" stroke-opacity="0.85"/>
<rect x="537.74" y="264.9" width="2.7" height="52.6" fill="#ebb021" stroke="#1e1e1e" stroke-width="0.5" stroke-opacity="0.85"/>
<rect x="537.74" y="229.5" width="2.7" height="35.4" fill="#86637c" stroke="#1e1e1e" stroke-width="0.5" stroke-opacity="0.85"/>
<rect x="549.97" y="315" width="2.7" height="32.5" fill="#6778a3" stroke="#1e1e1e" stroke-width="0.5" stroke-opacity="0.85"/>
<rect x="549.97" y="273.7" width="2.7" height="41.3" fill="#ebb021" stroke="#1e1e1e" stroke-width="0.5" stroke-opacity="0.85"/>
<rect x="549.97" y="236" width="2.7" height="37.7" fill="#86637c" stroke="#1e1e1e" stroke-width="0.5" stroke-opacity="0.85"/>
<rect x="562.2" y="317.5" width="2.7" height="30" fill="#6778a3" stroke="#1e1e1e" stroke-width="0.5" stroke-opacity="0.85"/>
<rect x="562.2" y="247.5" width="2.7" height="70" fill="#ebb021" stroke="#1e1e1e" stroke-width="0.5" stroke-opacity="0.85"/>
<rect x="562.2" y="241.2" width="2.7" height="6.3" fill="#86637c" stroke="#1e1e1e" stroke-width="0.5" stroke-opacity="0.85"/>
<rect x="574.43" y="311.2" width="2.7" height="36.3" fill="#6778a3" stroke="#1e1e1e" stroke-width="0.5" stroke-opacity="0.85"/>
<rect x="574.43" y="262.4" width="2.7" height="48.8" fill="#ebb021" stroke="#1e1e1e" stroke-width="0.5" stroke-opacity="0.85"/>
<rect x="574.43" y="254.9" width="2.7" height="7.5" fill="#86637c" stroke="#1e1e1e" stroke-width="0.5" stroke-opacity="0.85"/>
<rect x="586.66" y="317" width="2.7" height="30.5" fill="#6778a3" stroke="#1e1e1e" stroke-width="0.5" stroke-opacity="0.85"/>
<rect x="586.66" y="250.4" width="2.7" height="66.6" fill="#ebb021" stroke="#1e1e1e" stroke-width="0.5" stroke-opacity="0.85"/>
<rect x="586.66" y="219.8" width="2.7" height="30.6" fill="#86637c" stroke="#1e1e1e" stroke-width="0.5" stroke-opacity="0.85"/>
<rect x="598.89" y="324.2" width="2.7" height="23.3" fill="#6778a3" stroke="#1e1e1e" stroke-width="0.5" stroke-opacity="0.85"/>
<rect x="598.89" y="268.5" width="2.7" height="55.7" fill="#ebb021" stroke="#1e1e1e" stroke-width="0.5" stroke-opacity="0.85"/>
<rect x="598.89" y="240" width="2.7" height="28.5" fill="#86637c" stroke="#1e1e1e" stroke-width="0.5" stroke-opacity="0.85"/>
<rect x="611.12" y="321.8" width="2.7" height="25.7" fill="#6778a3" stroke="#1e1e1e" stroke-width="0.5" stroke-opacity="0.85"/>
<rect x="611.12" y="266.5" width="2.7" height="55.3" fill="#ebb021" stroke="#1e1e1e" stroke-width="0.5" stroke-opacity="0.85"/>
<rect x="611.12" y="250.2" width="2.7" height="16.3" fill="#86637c" stroke="#1e1e1e" stroke-width="0.5" stroke-opacity="0.85"/>
<rect x="623.35" y="326.5" width="2.7" height="21" fill="#6778a3" stroke="#1e1e1e" stroke-width="0.5" stroke-opacity="0.85"/>
<rect x="623.35" y="280.4" width="2.7" height="46.1" fill="#ebb021" stroke="#1e1e1e" stroke-width="0.5" stroke-opacity="0.85"/>
<rect x="623.35" y="245.9" width="2.7" height="34.5" fill="#86637c" stroke="#1e1e1e" stroke-width="0.5" stroke-opacity="0.85"/>
<rect x="635.58" y="318.2" width="2.7" height="29.3" fill="#6778a3" stroke="#1e1e1e" stroke-width="0.5" stroke-opacity="0.85"/>
<rect x="635.58" y="275.2" width="2.7" height="43" fill="#ebb021" stroke="#1e1e1e" stroke-width="0.5" stroke-opacity="0.85"/>
<rect x="635.58" y="239.4" width="2.7" height="35.8" fill="#86637c" stroke="#1e1e1e" stroke-width="0.5" stroke-opacity="0.85"/>
<rect x="647.81" y="323.1" width="2.7" height="24.4" fill="#6778a3" stroke="#1e1e1e" stroke-width="0.5" stroke-opacity="0.85"/>
<rect x="647.81" y="268.5" width="2.7" height="54.6" fill="#ebb021" stroke="#1e1e1e" stroke-width="0.5" stroke-opacity="0.85"/>
<rect x="647.81" y="223" width="2.7" height="45.5" fill="#86637c" stroke="#1e1e1e" stroke-width="0.5" stroke-opacity="0.85"/>
<rect x="660.04" y="324.2" width="2.7" height="23.3" fill="#6778a3" stroke="#1e1e1e" stroke-width="0.5" stroke-opacity="0.85"/>
<rect x="660.04" y="279.3" width="2.7" height="44.9" fill="#ebb021" stroke="#1e1e1e" stroke-width="0.5" stroke-opacity="0.85"/>
<rect x="660.04" y="237.1" width="2.7" height="42.2" fill="#86637c" stroke="#1e1e1e" stroke-width="0.5" stroke-opacity="0.85"/>
<rect x="672.27" y="323.1" width="2.7" height="24.4" fill="#6778a3" stroke="#1e1e1e" stroke-width="0.5" stroke-opacity="0.85"/>
<rect x="672.27" y="265.3" width="2.7" height="57.8" fill="#ebb021" stroke="#1e1e1e" stroke-width="0.5" stroke-opacity="0.85"/>
<rect x="672.27" y="234.4" width="2.7" height="30.9" fill="#86637c" stroke="#1e1e1e" stroke-width="0.5" stroke-opacity="0.85"/>
<line x1="381" y1="201.5" x2="685" y2="201.5" stroke="#8f8f8f" stroke-width="1"/>
<line x1="381" y1="347.5" x2="685" y2="347.5" stroke="#b4b4b4" stroke-width="1.4"/>
<line x1="381.5" y1="201.5" x2="381.5" y2="347.5" stroke="#969696" stroke-width="1"/>
<line x1="684.5" y1="201.5" x2="684.5" y2="347.5" stroke="#8f8f8f" stroke-width="1"/>
<line x1="392.33" y1="347.5" x2="392.33" y2="345.9" stroke="#8f8f8f" stroke-width="0.8"/>
<line x1="392.33" y1="201.5" x2="392.33" y2="203.1" stroke="#8f8f8f" stroke-width="0.8"/>
<line x1="404.56" y1="347.5" x2="404.56" y2="345.9" stroke="#8f8f8f" stroke-width="0.8"/>
<line x1="404.56" y1="201.5" x2="404.56" y2="203.1" stroke="#8f8f8f" stroke-width="0.8"/>
<line x1="416.79" y1="347.5" x2="416.79" y2="345.9" stroke="#8f8f8f" stroke-width="0.8"/>
<line x1="416.79" y1="201.5" x2="416.79" y2="203.1" stroke="#8f8f8f" stroke-width="0.8"/>
<line x1="429.02" y1="347.5" x2="429.02" y2="345.9" stroke="#8f8f8f" stroke-width="0.8"/>
<line x1="429.02" y1="201.5" x2="429.02" y2="203.1" stroke="#8f8f8f" stroke-width="0.8"/>
<line x1="441.25" y1="347.5" x2="441.25" y2="344.5" stroke="#8f8f8f" stroke-width="0.8"/>
<line x1="441.25" y1="201.5" x2="441.25" y2="204.5" stroke="#8f8f8f" stroke-width="0.8"/>
<line x1="453.48" y1="347.5" x2="453.48" y2="345.9" stroke="#8f8f8f" stroke-width="0.8"/>
<line x1="453.48" y1="201.5" x2="453.48" y2="203.1" stroke="#8f8f8f" stroke-width="0.8"/>
<line x1="465.71" y1="347.5" x2="465.71" y2="345.9" stroke="#8f8f8f" stroke-width="0.8"/>
<line x1="465.71" y1="201.5" x2="465.71" y2="203.1" stroke="#8f8f8f" stroke-width="0.8"/>
<line x1="477.94" y1="347.5" x2="477.94" y2="345.9" stroke="#8f8f8f" stroke-width="0.8"/>
<line x1="477.94" y1="201.5" x2="477.94" y2="203.1" stroke="#8f8f8f" stroke-width="0.8"/>
<line x1="490.17" y1="347.5" x2="490.17" y2="345.9" stroke="#8f8f8f" stroke-width="0.8"/>
<line x1="490.17" y1="201.5" x2="490.17" y2="203.1" stroke="#8f8f8f" stroke-width="0.8"/>
<line x1="502.4" y1="347.5" x2="502.4" y2="344.5" stroke="#8f8f8f" stroke-width="0.8"/>
<line x1="502.4" y1="201.5" x2="502.4" y2="204.5" stroke="#8f8f8f" stroke-width="0.8"/>
<line x1="514.63" y1="347.5" x2="514.63" y2="345.9" stroke="#8f8f8f" stroke-width="0.8"/>
<line x1="514.63" y1="201.5" x2="514.63" y2="203.1" stroke="#8f8f8f" stroke-width="0.8"/>
<line x1="526.86" y1="347.5" x2="526.86" y2="345.9" stroke="#8f8f8f" stroke-width="0.8"/>
<line x1="526.86" y1="201.5" x2="526.86" y2="203.1" stroke="#8f8f8f" stroke-width="0.8"/>
<line x1="539.09" y1="347.5" x2="539.09" y2="345.9" stroke="#8f8f8f" stroke-width="0.8"/>
<line x1="539.09" y1="201.5" x2="539.09" y2="203.1" stroke="#8f8f8f" stroke-width="0.8"/>
<line x1="551.32" y1="347.5" x2="551.32" y2="345.9" stroke="#8f8f8f" stroke-width="0.8"/>
<line x1="551.32" y1="201.5" x2="551.32" y2="203.1" stroke="#8f8f8f" stroke-width="0.8"/>
<line x1="563.55" y1="347.5" x2="563.55" y2="344.5" stroke="#8f8f8f" stroke-width="0.8"/>
<line x1="563.55" y1="201.5" x2="563.55" y2="204.5" stroke="#8f8f8f" stroke-width="0.8"/>
<line x1="575.78" y1="347.5" x2="575.78" y2="345.9" stroke="#8f8f8f" stroke-width="0.8"/>
<line x1="575.78" y1="201.5" x2="575.78" y2="203.1" stroke="#8f8f8f" stroke-width="0.8"/>
<line x1="588.01" y1="347.5" x2="588.01" y2="345.9" stroke="#8f8f8f" stroke-width="0.8"/>
<line x1="588.01" y1="201.5" x2="588.01" y2="203.1" stroke="#8f8f8f" stroke-width="0.8"/>
<line x1="600.24" y1="347.5" x2="600.24" y2="345.9" stroke="#8f8f8f" stroke-width="0.8"/>
<line x1="600.24" y1="201.5" x2="600.24" y2="203.1" stroke="#8f8f8f" stroke-width="0.8"/>
<line x1="612.47" y1="347.5" x2="612.47" y2="345.9" stroke="#8f8f8f" stroke-width="0.8"/>
<line x1="612.47" y1="201.5" x2="612.47" y2="203.1" stroke="#8f8f8f" stroke-width="0.8"/>
<line x1="624.7" y1="347.5" x2="624.7" y2="344.5" stroke="#8f8f8f" stroke-width="0.8"/>
<line x1="624.7" y1="201.5" x2="624.7" y2="204.5" stroke="#8f8f8f" stroke-width="0.8"/>
<line x1="630.82" y1="347.5" x2="630.82" y2="345.9" stroke="#8f8f8f" stroke-width="0.8"/>
<line x1="630.82" y1="201.5" x2="630.82" y2="203.1" stroke="#8f8f8f" stroke-width="0.8"/>
<line x1="636.93" y1="347.5" x2="636.93" y2="345.9" stroke="#8f8f8f" stroke-width="0.8"/>
<line x1="636.93" y1="201.5" x2="636.93" y2="203.1" stroke="#8f8f8f" stroke-width="0.8"/>
<line x1="643.05" y1="347.5" x2="643.05" y2="345.9" stroke="#8f8f8f" stroke-width="0.8"/>
<line x1="643.05" y1="201.5" x2="643.05" y2="203.1" stroke="#8f8f8f" stroke-width="0.8"/>
<line x1="649.16" y1="347.5" x2="649.16" y2="345.9" stroke="#8f8f8f" stroke-width="0.8"/>
<line x1="649.16" y1="201.5" x2="649.16" y2="203.1" stroke="#8f8f8f" stroke-width="0.8"/>
<line x1="655.28" y1="347.5" x2="655.28" y2="345.9" stroke="#8f8f8f" stroke-width="0.8"/>
<line x1="655.28" y1="201.5" x2="655.28" y2="203.1" stroke="#8f8f8f" stroke-width="0.8"/>
<line x1="661.39" y1="347.5" x2="661.39" y2="345.9" stroke="#8f8f8f" stroke-width="0.8"/>
<line x1="661.39" y1="201.5" x2="661.39" y2="203.1" stroke="#8f8f8f" stroke-width="0.8"/>
<line x1="667.51" y1="347.5" x2="667.51" y2="345.9" stroke="#8f8f8f" stroke-width="0.8"/>
<line x1="667.51" y1="201.5" x2="667.51" y2="203.1" stroke="#8f8f8f" stroke-width="0.8"/>
<line x1="673.62" y1="347.5" x2="673.62" y2="344.5" stroke="#8f8f8f" stroke-width="0.8"/>
<line x1="673.62" y1="201.5" x2="673.62" y2="204.5" stroke="#8f8f8f" stroke-width="0.8"/>
<line x1="679.74" y1="347.5" x2="679.74" y2="345.9" stroke="#8f8f8f" stroke-width="0.8"/>
<line x1="679.74" y1="201.5" x2="679.74" y2="203.1" stroke="#8f8f8f" stroke-width="0.8"/>
<line x1="381.5" y1="347.7" x2="384.5" y2="347.7" stroke="#8f8f8f" stroke-width="0.8"/>
<line x1="684.5" y1="347.7" x2="681.5" y2="347.7" stroke="#8f8f8f" stroke-width="0.8"/>
<line x1="381.5" y1="326.79" x2="384.5" y2="326.79" stroke="#8f8f8f" stroke-width="0.8"/>
<line x1="684.5" y1="326.79" x2="681.5" y2="326.79" stroke="#8f8f8f" stroke-width="0.8"/>
<line x1="381.5" y1="305.88" x2="384.5" y2="305.88" stroke="#8f8f8f" stroke-width="0.8"/>
<line x1="684.5" y1="305.88" x2="681.5" y2="305.88" stroke="#8f8f8f" stroke-width="0.8"/>
<line x1="381.5" y1="284.97" x2="384.5" y2="284.97" stroke="#8f8f8f" stroke-width="0.8"/>
<line x1="684.5" y1="284.97" x2="681.5" y2="284.97" stroke="#8f8f8f" stroke-width="0.8"/>
<line x1="381.5" y1="264.06" x2="384.5" y2="264.06" stroke="#8f8f8f" stroke-width="0.8"/>
<line x1="684.5" y1="264.06" x2="681.5" y2="264.06" stroke="#8f8f8f" stroke-width="0.8"/>
<line x1="381.5" y1="243.15" x2="384.5" y2="243.15" stroke="#8f8f8f" stroke-width="0.8"/>
<line x1="684.5" y1="243.15" x2="681.5" y2="243.15" stroke="#8f8f8f" stroke-width="0.8"/>
<line x1="381.5" y1="222.24" x2="384.5" y2="222.24" stroke="#8f8f8f" stroke-width="0.8"/>
<line x1="684.5" y1="222.24" x2="681.5" y2="222.24" stroke="#8f8f8f" stroke-width="0.8"/>
<line x1="381.5" y1="201.33" x2="384.5" y2="201.33" stroke="#8f8f8f" stroke-width="0.8"/>
<line x1="684.5" y1="201.33" x2="681.5" y2="201.33" stroke="#8f8f8f" stroke-width="0.8"/>
<rect x="508.3" y="206.2" width="158" height="13.3" fill="#fff" stroke="#9a9a9a" stroke-width="1"/>
<rect x="509.9" y="209.1" width="19.9" height="8.4" fill="#86637c" stroke="#1e1e1e" stroke-width="0.6" stroke-opacity="0.6"/>
<text x="532.1" y="216.6" class="b" textLength="27.8" lengthAdjust="spacingAndGlyphs">Case 1</text>
<rect x="564.3" y="209.1" width="20.1" height="8.4" fill="#ebb021" stroke="#1e1e1e" stroke-width="0.6" stroke-opacity="0.6"/>
<text x="586.1" y="216.6" class="b" textLength="28.1" lengthAdjust="spacingAndGlyphs">Case 3</text>
<rect x="618.2" y="209.1" width="20.3" height="8.4" fill="#6778a3" stroke="#1e1e1e" stroke-width="0.6" stroke-opacity="0.6"/>
<text x="640.5" y="216.6" class="b" textLength="23.1" lengthAdjust="spacingAndGlyphs">data1</text>
<text x="377.2" y="351.6" class="b" text-anchor="end">0</text>
<text x="377.2" y="330.69" class="b" text-anchor="end">100</text>
<text x="377.2" y="309.78" class="b" text-anchor="end">200</text>
<text x="377.2" y="288.87" class="b" text-anchor="end">300</text>
<text x="377.2" y="267.96" class="b" text-anchor="end">400</text>
<text x="377.2" y="247.05" class="b" text-anchor="end">500</text>
<text x="377.2" y="226.14" class="b" text-anchor="end">600</text>
<text x="377.2" y="205.23" class="b" text-anchor="end">700</text>
<text x="441.25" y="360.6" class="b" text-anchor="middle">5</text>
<text x="502.4" y="360.6" class="b" text-anchor="middle">10</text>
<text x="563.55" y="360.6" class="b" text-anchor="middle">15</text>
<text x="624.7" y="360.6" class="b" text-anchor="middle">20</text>
<text x="673.62" y="360.6" class="b" text-anchor="middle">24</text>
<text x="531.7" y="373.6" class="l" text-anchor="middle" textLength="51.4" lengthAdjust="spacingAndGlyphs">Time (hour)</text>
<text transform="translate(357.3,263.4) rotate(-90)" x="0" y="0" class="l" text-anchor="middle" textLength="41.4" lengthAdjust="spacingAndGlyphs">Deviation</text>
</g>
<text x="498.5" y="387.2" class="c" text-anchor="middle">(d)</text>
</svg>
</body></html>
